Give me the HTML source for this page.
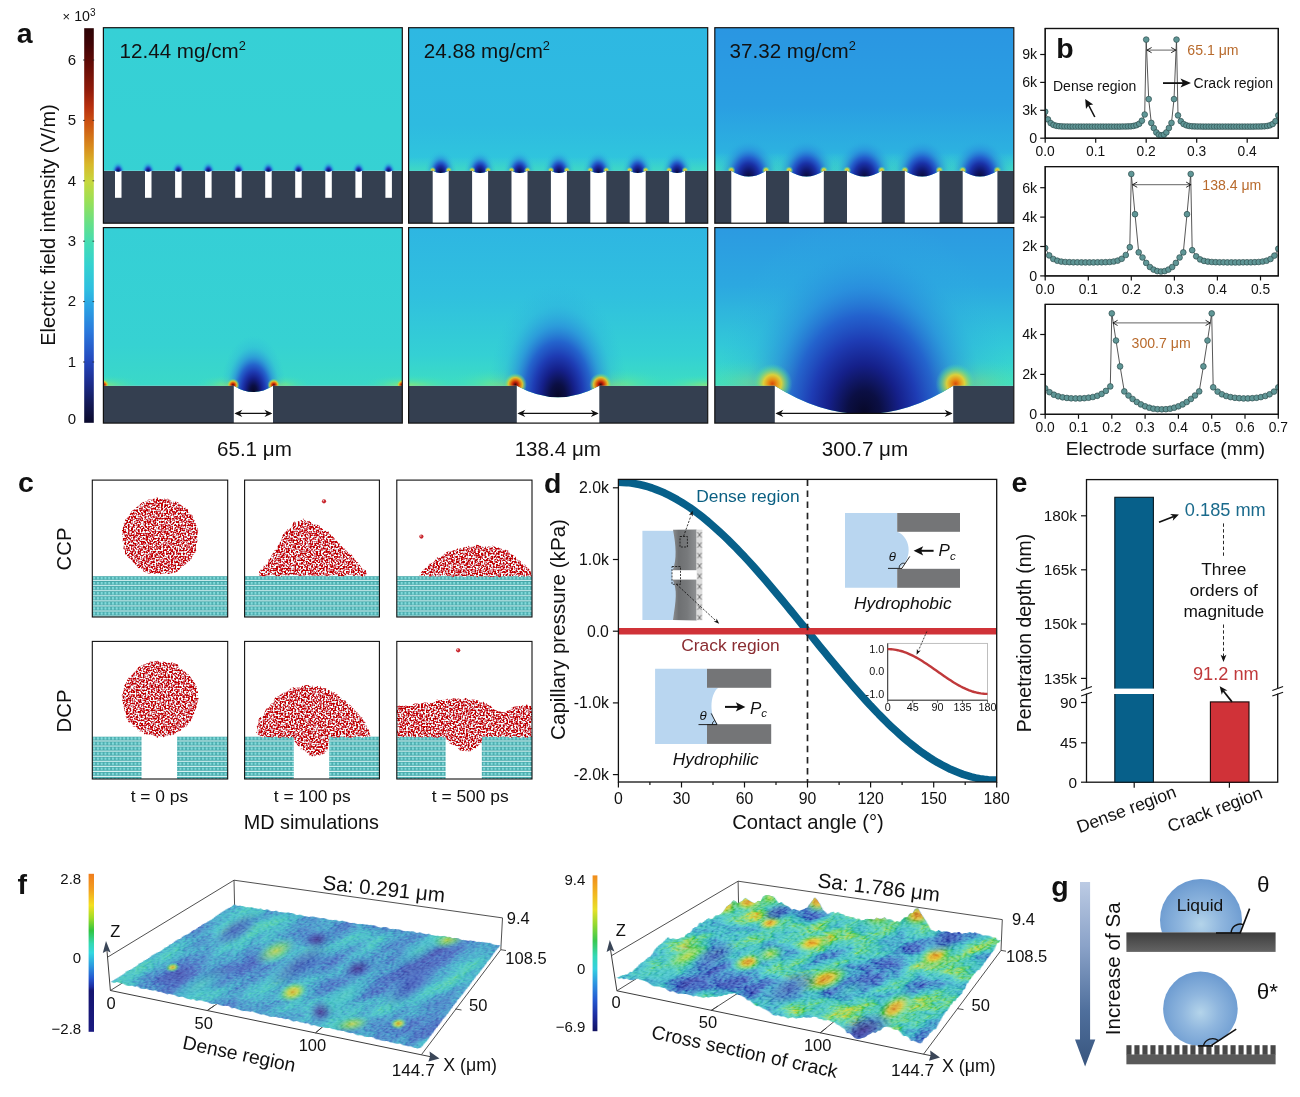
<!DOCTYPE html>
<html><head><meta charset="utf-8"><title>Figure</title>
<style>html,body{margin:0;padding:0;background:#fff}svg{display:block;will-change:transform}text{font-family:"Liberation Sans",sans-serif;fill:#111}</style>
</head><body>
<svg width="1300" height="1097" viewBox="0 0 1300 1097">
<defs>
<linearGradient id="cbA" x1="0" y1="0" x2="0" y2="1">
<stop offset="0" stop-color="#2c0406"/><stop offset="0.04" stop-color="#400406"/><stop offset="0.08" stop-color="#5c0a06"/>
<stop offset="0.155" stop-color="#8f1a0a"/><stop offset="0.2" stop-color="#b8300e"/><stop offset="0.24" stop-color="#cc5212"/>
<stop offset="0.30" stop-color="#d88a1c"/><stop offset="0.345" stop-color="#d8b82a"/><stop offset="0.39" stop-color="#c6d83e"/>
<stop offset="0.44" stop-color="#98e058"/><stop offset="0.50" stop-color="#62e08c"/><stop offset="0.545" stop-color="#44dcb4"/>
<stop offset="0.60" stop-color="#34d2d0"/><stop offset="0.66" stop-color="#2ebfe0"/><stop offset="0.70" stop-color="#2aa6e4"/>
<stop offset="0.77" stop-color="#2a78dc"/><stop offset="0.845" stop-color="#2446bc"/><stop offset="0.90" stop-color="#1c2c8c"/>
<stop offset="0.95" stop-color="#141a58"/><stop offset="1" stop-color="#0a0a2c"/></linearGradient>
<radialGradient id="blob1"><stop offset="0" stop-color="#101a60"/><stop offset="0.18" stop-color="#1a2c9a"/><stop offset="0.4" stop-color="#2456d0" stop-opacity="0.9"/><stop offset="0.7" stop-color="#2a90e0" stop-opacity="0.45"/><stop offset="1" stop-color="#2eb0e0" stop-opacity="0"/></radialGradient>
<radialGradient id="blobS"><stop offset="0" stop-color="#1a2ca0"/><stop offset="0.35" stop-color="#2456d0" stop-opacity="0.85"/><stop offset="1" stop-color="#2a90e0" stop-opacity="0"/></radialGradient>
<radialGradient id="hot"><stop offset="0" stop-color="#3a0808"/><stop offset="0.22" stop-color="#c02008"/><stop offset="0.42" stop-color="#e07010"/><stop offset="0.62" stop-color="#e8c828" stop-opacity="0.9"/><stop offset="0.8" stop-color="#90e060" stop-opacity="0.5"/><stop offset="1" stop-color="#50e0a0" stop-opacity="0"/></radialGradient>
<radialGradient id="hotY"><stop offset="0" stop-color="#e8b020"/><stop offset="0.4" stop-color="#e0e040" stop-opacity="0.9"/><stop offset="0.7" stop-color="#80e070" stop-opacity="0.5"/><stop offset="1" stop-color="#50e0a0" stop-opacity="0"/></radialGradient>
<radialGradient id="hot3"><stop offset="0" stop-color="#d84c0a"/><stop offset="0.2" stop-color="#e88c14"/><stop offset="0.45" stop-color="#e8d430" stop-opacity="0.92"/><stop offset="0.75" stop-color="#70e080" stop-opacity="0.5"/><stop offset="1" stop-color="#40d8c0" stop-opacity="0"/></radialGradient>
<linearGradient id="bgT1" x1="0" y1="0" x2="0" y2="1"><stop offset="0" stop-color="#36d0d6"/><stop offset="1" stop-color="#36d2d2"/></linearGradient>
<linearGradient id="bgT2" x1="0" y1="0" x2="0" y2="1"><stop offset="0" stop-color="#2eb8e2"/><stop offset="0.5" stop-color="#2ebbe0"/><stop offset="0.73" stop-color="#30c8dc"/><stop offset="1" stop-color="#30c8dc"/></linearGradient>
<linearGradient id="bgT3" x1="0" y1="0" x2="0" y2="1"><stop offset="0" stop-color="#2a96e2"/><stop offset="0.4" stop-color="#2a9fe2"/><stop offset="0.62" stop-color="#2cb0e0"/><stop offset="0.73" stop-color="#2fc4dc"/><stop offset="1" stop-color="#2fc4dc"/></linearGradient>
<linearGradient id="bgB1" x1="0" y1="0" x2="0" y2="1"><stop offset="0" stop-color="#35cfd6"/><stop offset="0.6" stop-color="#36d2d2"/><stop offset="0.8" stop-color="#3ad8c8"/><stop offset="1" stop-color="#3ad8c8"/></linearGradient>
<linearGradient id="bgB2" x1="0" y1="0" x2="0" y2="1"><stop offset="0" stop-color="#2eb6e2"/><stop offset="0.35" stop-color="#30c0de"/><stop offset="0.65" stop-color="#34d0d4"/><stop offset="0.79" stop-color="#3cdcc4"/><stop offset="1" stop-color="#3cdcc4"/></linearGradient>
<linearGradient id="bgB3" x1="0" y1="0" x2="0" y2="1"><stop offset="0" stop-color="#2c9ae1"/><stop offset="0.3" stop-color="#2ca8e0"/><stop offset="0.6" stop-color="#32c8d8"/><stop offset="0.79" stop-color="#3adcc8"/><stop offset="1" stop-color="#3adcc8"/></linearGradient>
<clipPath id="cT0"><rect x="103.4" y="27.7" width="298.9" height="143.1"/></clipPath>
<clipPath id="cTT0"><rect x="103.4" y="27.7" width="298.9" height="195.5"/></clipPath>
<clipPath id="cBB0"><rect x="103.4" y="227.6" width="298.9" height="195.5"/></clipPath>
<clipPath id="cT1"><rect x="408.6" y="27.7" width="299.1" height="143.1"/></clipPath>
<clipPath id="cTT1"><rect x="408.6" y="27.7" width="299.1" height="195.5"/></clipPath>
<clipPath id="cBB1"><rect x="408.6" y="227.6" width="299.1" height="195.5"/></clipPath>
<clipPath id="cT2"><rect x="714.8" y="27.7" width="299.0" height="143.1"/></clipPath>
<clipPath id="cTT2"><rect x="714.8" y="27.7" width="299.0" height="195.5"/></clipPath>
<clipPath id="cBB2"><rect x="714.8" y="227.6" width="299.0" height="195.5"/></clipPath>
<radialGradient id="blobT"><stop offset="0" stop-color="#090c3c"/><stop offset="0.16" stop-color="#101870"/><stop offset="0.32" stop-color="#1a32a8"/><stop offset="0.46" stop-color="#2254cc" stop-opacity="0.9"/><stop offset="0.64" stop-color="#2884dc" stop-opacity="0.55"/><stop offset="0.84" stop-color="#2ca8e0" stop-opacity="0.2"/><stop offset="1" stop-color="#2eb0e0" stop-opacity="0"/></radialGradient>
<linearGradient id="bandT" x1="0" y1="0" x2="0" y2="1"><stop offset="0" stop-color="#40dcc4" stop-opacity="0"/><stop offset="1" stop-color="#44dcbc" stop-opacity="0.8"/></linearGradient>
<clipPath id="elt0"><path d="M103.4 27.7 H402.3 V170.8 H391.9 Q388.6 172.8 385.4 170.8 H361.9 Q358.6 172.8 355.4 170.8 H331.8 Q328.6 172.8 325.3 170.8 H301.8 Q298.5 172.8 295.2 170.8 H271.7 Q268.4 172.8 265.2 170.8 H241.7 Q238.4 172.8 235.2 170.8 H211.6 Q208.4 172.8 205.1 170.8 H181.6 Q178.3 172.8 175.1 170.8 H151.5 Q148.2 172.8 145.0 170.8 H121.5 Q118.2 172.8 115.0 170.8 H103.4Z"/></clipPath>
<clipPath id="elt1"><path d="M408.6 27.7 H707.7 V170.8 H685.1 Q677.1 175.2 669.1 170.8 H645.7 Q637.7 175.2 629.7 170.8 H606.3 Q598.3 175.2 590.3 170.8 H566.9 Q558.9 175.2 550.9 170.8 H527.5 Q519.5 175.2 511.5 170.8 H488.1 Q480.1 175.2 472.1 170.8 H448.7 Q440.7 175.2 432.7 170.8 H408.6Z"/></clipPath>
<clipPath id="elt2"><path d="M714.8 27.7 H1013.8 V170.8 H997.4 Q980.0 182.4 962.7 170.8 H939.5 Q922.2 182.4 904.8 170.8 H881.7 Q864.4 182.4 847.0 170.8 H823.9 Q806.5 182.4 789.1 170.8 H766.0 Q748.6 182.4 731.3 170.8 H714.8Z"/></clipPath>
<radialGradient id="glow"><stop offset="0" stop-color="#a0e860" stop-opacity="0.75"/><stop offset="0.5" stop-color="#60e498" stop-opacity="0.4"/><stop offset="1" stop-color="#40dcc0" stop-opacity="0"/></radialGradient>
<clipPath id="elk0"><path d="M103.4 227.6 H402.3 V385.7 H273.0 Q253.4 398.3 233.8 385.7 H103.4Z"/></clipPath>
<radialGradient id="plm0" gradientUnits="userSpaceOnUse" cx="0" cy="0" r="1" fx="0" fy="0" gradientTransform="translate(253.4 391.5) scale(33 56)">
<stop offset="0" stop-color="#070828"/><stop offset="0.11" stop-color="#0b0f44"/><stop offset="0.24" stop-color="#15208a"/><stop offset="0.36" stop-color="#1e3cb4"/><stop offset="0.48" stop-color="#2258cc" stop-opacity="0.9"/><stop offset="0.62" stop-color="#2880dc" stop-opacity="0.62"/><stop offset="0.8" stop-color="#2ca4e0" stop-opacity="0.25"/><stop offset="1" stop-color="#2eb4e0" stop-opacity="0"/></radialGradient>
<clipPath id="elk1"><path d="M408.6 227.6 H707.7 V385.7 H599.3 Q558.0 408.7 516.8 385.7 H408.6Z"/></clipPath>
<radialGradient id="plm1" gradientUnits="userSpaceOnUse" cx="0" cy="0" r="1" fx="0" fy="0" gradientTransform="translate(558.0 396.5) scale(70 114)">
<stop offset="0" stop-color="#070828"/><stop offset="0.11" stop-color="#0b0f44"/><stop offset="0.24" stop-color="#15208a"/><stop offset="0.36" stop-color="#1e3cb4"/><stop offset="0.48" stop-color="#2258cc" stop-opacity="0.9"/><stop offset="0.62" stop-color="#2880dc" stop-opacity="0.62"/><stop offset="0.8" stop-color="#2ca4e0" stop-opacity="0.25"/><stop offset="1" stop-color="#2eb4e0" stop-opacity="0"/></radialGradient>
<clipPath id="elk2"><path d="M714.8 227.6 H1013.8 V385.7 H953.2 Q864.0 442.5 774.8 385.7 H714.8Z"/></clipPath>
<radialGradient id="plm2" gradientUnits="userSpaceOnUse" cx="0" cy="0" r="1" fx="0" fy="0" gradientTransform="translate(864.0 413.5) scale(150 204)">
<stop offset="0" stop-color="#070828"/><stop offset="0.11" stop-color="#0b0f44"/><stop offset="0.24" stop-color="#15208a"/><stop offset="0.36" stop-color="#1e3cb4"/><stop offset="0.48" stop-color="#2258cc" stop-opacity="0.9"/><stop offset="0.62" stop-color="#2880dc" stop-opacity="0.62"/><stop offset="0.8" stop-color="#2ca4e0" stop-opacity="0.25"/><stop offset="1" stop-color="#2eb4e0" stop-opacity="0"/></radialGradient>
<clipPath id="cb28"><rect x="1045.2" y="28.5" width="233.1" height="109.7"/></clipPath>
<clipPath id="cb166"><rect x="1045.2" y="166.6" width="233.1" height="109.3"/></clipPath>
<clipPath id="cb304"><rect x="1045.2" y="304.4" width="233.1" height="109.9"/></clipPath>
<filter id="spk" x="0" y="0" width="1" height="1" color-interpolation-filters="sRGB">
<feTurbulence type="fractalNoise" baseFrequency="0.6" numOctaves="1" seed="7" result="n"/>
<feColorMatrix in="n" type="matrix" values="0 0.7 0 0 0.50  0 5.0 0 0 -2.06  0 4.9 0 0 -1.98  0 0 0 0 1" result="c"/>
<feComposite in="c" in2="SourceGraphic" operator="in"/></filter>
<pattern id="sub" x="92.3" y="576.0" width="3.75" height="5.07" patternUnits="userSpaceOnUse">
<rect width="3.75" height="5.07" fill="#46a8aa"/><rect y="4.05" width="3.75" height="1.02" fill="#dcf5f5"/><rect x="0.75" y="0.85" width="2.3" height="2.3" rx="0.6" fill="#84dcdc"/></pattern>
<pattern id="sub2" x="92.3" y="736.4" width="3.75" height="5.07" patternUnits="userSpaceOnUse">
<rect width="3.75" height="5.07" fill="#46a8aa"/><rect y="4.05" width="3.75" height="1.02" fill="#dcf5f5"/><rect x="0.75" y="0.85" width="2.3" height="2.3" rx="0.6" fill="#84dcdc"/></pattern>
<clipPath id="cc0"><rect x="92.3" y="480.1" width="135.4" height="136.9"/></clipPath>
<clipPath id="cd0"><rect x="92.3" y="641.4" width="135.4" height="137.6"/></clipPath>
<clipPath id="cc1"><rect x="244.6" y="480.1" width="134.8" height="136.9"/></clipPath>
<clipPath id="cd1"><rect x="244.6" y="641.4" width="134.8" height="137.6"/></clipPath>
<clipPath id="cc2"><rect x="396.8" y="480.1" width="135.2" height="136.9"/></clipPath>
<clipPath id="cd2"><rect x="396.8" y="641.4" width="135.2" height="137.6"/></clipPath>
<clipPath id="cdp"><rect x="618.4" y="479.4" width="378.3" height="302.6"/></clipPath>
<linearGradient id="elg" x1="0" y1="0" x2="1" y2="0"><stop offset="0" stop-color="#8a8c8e"/><stop offset="0.25" stop-color="#6e7072"/><stop offset="0.6" stop-color="#77797b"/><stop offset="1" stop-color="#8e9092"/></linearGradient>
<pattern id="xx" x="696.6" y="529.2" width="5.8" height="10.35" patternUnits="userSpaceOnUse"><rect width="5.8" height="10.35" fill="#dedede"/><path d="M0.9 3.0 L4.9 8.2 M4.9 3.0 L0.9 8.2" stroke="#5a5a5a" stroke-width="0.85"/></pattern>
<linearGradient id="cbF1" x1="0" y1="0" x2="0" y2="1"><stop offset="0" stop-color="#f07c1c"/><stop offset="0.1" stop-color="#f2a020"/><stop offset="0.2" stop-color="#f4e020"/><stop offset="0.28" stop-color="#a0dc28"/><stop offset="0.36" stop-color="#30c440"/><stop offset="0.44" stop-color="#34d8b0"/><stop offset="0.5" stop-color="#34d8e0"/><stop offset="0.58" stop-color="#2c9ce0"/><stop offset="0.66" stop-color="#2458d0"/><stop offset="0.715" stop-color="#1c2ca0"/><stop offset="0.74" stop-color="#141470"/><stop offset="1" stop-color="#1a1a80"/></linearGradient>
<linearGradient id="cbF2" x1="0" y1="0" x2="0" y2="1"><stop offset="0" stop-color="#f08c1c"/><stop offset="0.12" stop-color="#f2b820"/><stop offset="0.22" stop-color="#e8e028"/><stop offset="0.32" stop-color="#90d830"/><stop offset="0.42" stop-color="#38c850"/><stop offset="0.52" stop-color="#34d8b8"/><stop offset="0.6" stop-color="#34d0e0"/><stop offset="0.7" stop-color="#2c90e0"/><stop offset="0.8" stop-color="#2458d0"/><stop offset="0.9" stop-color="#1c2ca0"/><stop offset="1" stop-color="#101060"/></linearGradient>
<filter id="srf1" x="0" y="0" width="1" height="1" color-interpolation-filters="sRGB"><feTurbulence type="fractalNoise" baseFrequency="0.03 0.013" numOctaves="3" seed="11" result="t1"/>
<feColorMatrix in="t1" type="matrix" values="1 0 0 0 0  1 0 0 0 0  1 0 0 0 0  0 0 0 0 1" result="l"/>
<feTurbulence type="fractalNoise" baseFrequency="0.45 0.32" numOctaves="2" seed="14" result="t2"/>
<feColorMatrix in="t2" type="matrix" values="1 0 0 0 0  1 0 0 0 0  1 0 0 0 0  0 0 0 0 1" result="hh"/>
<feComposite in="l" in2="hh" operator="arithmetic" k1="0" k2="0.72" k3="0.28" k4="0" result="m"/>
<feColorMatrix in="m" type="matrix" values="0.8 0 0 0 0.09  0.8 0 0 0 0.09  0.8 0 0 0 0.09  0.8 0 0 0 0.09" result="h"/>
<feComponentTransfer in="h" result="col"><feFuncR type="table" tableValues="0.235 0.246 0.257 0.268 0.279 0.290 0.296 0.303 0.309 0.313 0.309 0.306 0.303 0.299 0.312 0.332 0.370 0.438 0.511 0.654 0.797 0.853 0.881 0.910"/><feFuncG type="table" tableValues="0.173 0.197 0.222 0.247 0.272 0.297 0.334 0.372 0.411 0.457 0.525 0.593 0.665 0.736 0.777 0.800 0.821 0.834 0.847 0.847 0.847 0.761 0.647 0.533"/><feFuncB type="table" tableValues="0.533 0.558 0.583 0.608 0.633 0.657 0.687 0.717 0.747 0.772 0.786 0.799 0.800 0.800 0.773 0.732 0.664 0.548 0.435 0.360 0.285 0.228 0.177 0.125"/><feFuncA type="linear" slope="0" intercept="1"/></feComponentTransfer>
<feComposite in="col" in2="SourceGraphic" operator="in"/></filter><filter id="srf1L" x="0" y="0" width="1" height="1" color-interpolation-filters="sRGB"><feTurbulence type="fractalNoise" baseFrequency="0.03 0.013" numOctaves="3" seed="11" result="t1"/>
<feColorMatrix in="t1" type="matrix" values="1 0 0 0 0  1 0 0 0 0  1 0 0 0 0  0 0 0 0 1" result="l"/>
<feTurbulence type="fractalNoise" baseFrequency="0.45 0.32" numOctaves="2" seed="14" result="t2"/>
<feColorMatrix in="t2" type="matrix" values="1 0 0 0 0  1 0 0 0 0  1 0 0 0 0  0 0 0 0 1" result="hh"/>
<feComposite in="l" in2="hh" operator="arithmetic" k1="0" k2="0.72" k3="0.28" k4="0" result="m"/>
<feColorMatrix in="m" type="matrix" values="0.8 0 0 0 0.09  0.8 0 0 0 0.09  0.8 0 0 0 0.09  0.8 0 0 0 0.09" result="h"/>
<feDiffuseLighting in="h" surfaceScale="5" diffuseConstant="0.6" lighting-color="#fff" result="lit"><feDistantLight azimuth="235" elevation="62"/></feDiffuseLighting>
<feComposite in="lit" in2="SourceGraphic" operator="in"/></filter>
<filter id="srf2" x="0" y="0" width="1" height="1" color-interpolation-filters="sRGB"><feTurbulence type="fractalNoise" baseFrequency="0.024 0.02" numOctaves="4" seed="23" result="t1"/>
<feColorMatrix in="t1" type="matrix" values="1 0 0 0 0  1 0 0 0 0  1 0 0 0 0  0 0 0 0 1" result="l"/>
<feTurbulence type="fractalNoise" baseFrequency="0.42 0.3" numOctaves="2" seed="26" result="t2"/>
<feColorMatrix in="t2" type="matrix" values="1 0 0 0 0  1 0 0 0 0  1 0 0 0 0  0 0 0 0 1" result="hh"/>
<feComposite in="l" in2="hh" operator="arithmetic" k1="0" k2="0.8" k3="0.2" k4="0" result="m"/>
<feColorMatrix in="m" type="matrix" values="1.25 0 0 0 -0.09  1.25 0 0 0 -0.09  1.25 0 0 0 -0.09  1.25 0 0 0 -0.09" result="h"/>
<feComponentTransfer in="h" result="col"><feFuncR type="table" tableValues="0.227 0.241 0.255 0.268 0.278 0.285 0.292 0.298 0.298 0.298 0.298 0.298 0.298 0.312 0.329 0.370 0.435 0.513 0.643 0.773 0.839 0.900 0.910 0.910"/><feFuncG type="table" tableValues="0.173 0.204 0.236 0.268 0.305 0.346 0.387 0.429 0.489 0.549 0.611 0.680 0.748 0.780 0.804 0.823 0.836 0.847 0.847 0.847 0.764 0.673 0.580 0.486"/><feFuncB type="table" tableValues="0.533 0.570 0.606 0.642 0.676 0.708 0.740 0.770 0.781 0.792 0.801 0.804 0.807 0.777 0.740 0.666 0.557 0.453 0.372 0.290 0.241 0.196 0.152 0.110"/><feFuncA type="linear" slope="0" intercept="1"/></feComponentTransfer>
<feComposite in="col" in2="SourceGraphic" operator="in"/></filter><filter id="srf2L" x="0" y="0" width="1" height="1" color-interpolation-filters="sRGB"><feTurbulence type="fractalNoise" baseFrequency="0.024 0.02" numOctaves="4" seed="23" result="t1"/>
<feColorMatrix in="t1" type="matrix" values="1 0 0 0 0  1 0 0 0 0  1 0 0 0 0  0 0 0 0 1" result="l"/>
<feTurbulence type="fractalNoise" baseFrequency="0.42 0.3" numOctaves="2" seed="26" result="t2"/>
<feColorMatrix in="t2" type="matrix" values="1 0 0 0 0  1 0 0 0 0  1 0 0 0 0  0 0 0 0 1" result="hh"/>
<feComposite in="l" in2="hh" operator="arithmetic" k1="0" k2="0.8" k3="0.2" k4="0" result="m"/>
<feColorMatrix in="m" type="matrix" values="1.25 0 0 0 -0.09  1.25 0 0 0 -0.09  1.25 0 0 0 -0.09  1.25 0 0 0 -0.09" result="h"/>
<feDiffuseLighting in="h" surfaceScale="7" diffuseConstant="0.62" lighting-color="#fff" result="lit"><feDistantLight azimuth="235" elevation="58"/></feDiffuseLighting>
<feComposite in="lit" in2="SourceGraphic" operator="in"/></filter>
<radialGradient id="pkO"><stop offset="0" stop-color="#ea8c20"/><stop offset="0.3" stop-color="#e6c838"/><stop offset="0.55" stop-color="#8cd868" stop-opacity="0.85"/><stop offset="0.8" stop-color="#58d0b0" stop-opacity="0.4"/><stop offset="1" stop-color="#4cc4cc" stop-opacity="0"/></radialGradient>
<radialGradient id="pkY"><stop offset="0" stop-color="#e4b430"/><stop offset="0.3" stop-color="#cfd848"/><stop offset="0.55" stop-color="#84d870" stop-opacity="0.85"/><stop offset="0.8" stop-color="#58d0b0" stop-opacity="0.4"/><stop offset="1" stop-color="#4cc4cc" stop-opacity="0"/></radialGradient>
<radialGradient id="pkG"><stop offset="0" stop-color="#c4d84c"/><stop offset="0.4" stop-color="#7cd878" stop-opacity="0.85"/><stop offset="0.75" stop-color="#58d0b4" stop-opacity="0.4"/><stop offset="1" stop-color="#4cc4cc" stop-opacity="0"/></radialGradient>
<radialGradient id="pkP"><stop offset="0" stop-color="#46308c"/><stop offset="0.4" stop-color="#4a50ac" stop-opacity="0.85"/><stop offset="0.75" stop-color="#5070c4" stop-opacity="0.4"/><stop offset="1" stop-color="#5070c4" stop-opacity="0"/></radialGradient>
<radialGradient id="pkB"><stop offset="0" stop-color="#4a5cb8"/><stop offset="0.5" stop-color="#5070c4" stop-opacity="0.7"/><stop offset="1" stop-color="#4e88c8" stop-opacity="0"/></radialGradient>
<radialGradient id="pkC"><stop offset="0" stop-color="#58d0c0" stop-opacity="0.9"/><stop offset="0.5" stop-color="#4cc4cc" stop-opacity="0.6"/><stop offset="1" stop-color="#4cc4cc" stop-opacity="0"/></radialGradient>
<clipPath id="sc1"><path d="M111.0 981.6 L113.6 980.2 L116.1 978.7 L118.7 977.2 L121.2 975.4 L123.8 974.0 L126.4 971.4 L128.9 970.3 L131.5 969.3 L134.1 967.3 L136.6 966.0 L139.2 963.5 L141.8 962.3 L144.3 960.5 L146.9 959.2 L149.4 957.7 L152.0 955.4 L154.6 954.1 L157.1 952.5 L159.7 951.7 L162.2 949.9 L164.8 947.6 L167.4 946.8 L169.9 944.4 L172.5 943.4 L175.1 941.2 L177.6 939.5 L180.2 938.9 L182.8 936.5 L185.3 934.9 L187.9 934.3 L190.4 932.5 L193.0 930.2 L195.6 929.5 L198.1 927.4 L200.7 925.9 L203.2 923.8 L205.8 923.1 L208.4 921.2 L210.9 919.9 L213.5 918.2 L216.1 915.9 L218.6 914.4 L221.2 912.6 L223.8 910.9 L226.3 909.3 L228.9 907.9 L231.4 906.7 L234.0 904.3 L237.0 905.7 L240.0 905.7 L243.0 906.1 L246.0 907.2 L249.0 907.2 L252.0 907.4 L255.0 908.1 L258.0 908.9 L260.9 908.4 L263.9 910.2 L266.9 909.3 L269.9 910.7 L272.9 911.3 L275.9 910.6 L278.9 912.1 L281.9 912.0 L284.9 912.8 L287.9 912.4 L290.9 912.9 L293.9 913.5 L296.9 915.1 L299.9 914.5 L302.9 915.7 L305.9 916.4 L308.9 916.9 L311.9 916.5 L314.8 916.9 L317.8 917.6 L320.8 918.4 L323.8 917.9 L326.8 919.3 L329.8 919.8 L332.8 920.3 L335.8 919.6 L338.8 921.4 L341.8 920.6 L344.8 921.4 L347.8 922.2 L350.8 923.1 L353.8 922.8 L356.8 924.0 L359.8 923.9 L362.8 924.1 L365.8 924.5 L368.7 924.8 L371.7 925.1 L374.7 925.6 L377.7 926.8 L380.7 927.7 L383.7 927.0 L386.7 927.3 L389.7 929.1 L392.7 928.9 L395.7 929.1 L398.7 929.4 L401.7 930.3 L404.7 931.1 L407.7 931.0 L410.7 931.4 L413.7 931.3 L416.7 933.0 L419.7 932.2 L422.6 933.3 L425.6 934.2 L428.6 933.7 L431.6 935.0 L434.6 935.7 L437.6 935.7 L440.6 936.4 L443.6 935.9 L446.6 936.8 L449.6 936.9 L452.6 938.3 L455.6 938.0 L458.6 938.6 L461.6 939.9 L464.6 940.1 L467.6 940.7 L470.6 940.4 L473.6 940.9 L476.5 941.7 L479.5 941.8 L482.5 942.0 L485.5 942.6 L488.5 942.7 L491.5 943.5 L494.5 944.8 L497.5 945.2 L500.5 945.2 L498.6 947.4 L496.8 949.6 L494.9 951.7 L493.1 954.4 L491.2 957.4 L489.3 959.9 L487.5 961.7 L485.6 964.6 L483.8 967.0 L481.9 969.3 L480.0 971.7 L478.2 974.2 L476.3 976.1 L474.5 978.9 L472.6 980.8 L470.7 983.5 L468.9 986.2 L467.0 988.6 L465.2 990.5 L463.3 993.7 L461.4 995.7 L459.6 998.1 L457.7 999.8 L455.8 1002.8 L454.0 1004.9 L452.1 1007.8 L450.3 1009.9 L448.4 1012.8 L446.5 1015.0 L444.7 1017.6 L442.8 1019.4 L441.0 1022.2 L439.1 1024.7 L437.2 1027.2 L435.4 1029.1 L433.5 1032.1 L431.7 1034.5 L429.8 1036.7 L427.9 1039.4 L426.1 1041.8 L424.2 1043.7 L422.4 1046.1 L420.5 1047.9 L417.6 1048.5 L414.6 1048.0 L411.7 1046.5 L408.7 1046.3 L405.8 1045.7 L402.8 1045.1 L399.9 1043.4 L396.9 1043.9 L394.0 1042.9 L391.0 1042.4 L388.1 1041.3 L385.1 1041.1 L382.2 1040.7 L379.2 1039.8 L376.3 1039.3 L373.3 1037.4 L370.4 1037.0 L367.4 1036.9 L364.5 1036.6 L361.5 1035.2 L358.6 1035.4 L355.7 1034.7 L352.7 1033.0 L349.8 1033.1 L346.8 1032.1 L343.9 1031.1 L340.9 1030.6 L338.0 1030.3 L335.0 1029.4 L332.1 1028.8 L329.1 1027.9 L326.2 1028.0 L323.2 1027.2 L320.3 1027.0 L317.3 1026.3 L314.4 1025.1 L311.4 1025.6 L308.5 1023.4 L305.5 1023.4 L302.6 1022.6 L299.6 1022.2 L296.7 1021.0 L293.8 1021.7 L290.8 1020.2 L287.9 1019.0 L284.9 1019.4 L282.0 1017.8 L279.0 1018.0 L276.1 1016.9 L273.1 1016.7 L270.2 1016.8 L267.2 1015.9 L264.3 1014.5 L261.3 1014.6 L258.4 1013.7 L255.4 1012.5 L252.5 1011.5 L249.5 1011.7 L246.6 1011.0 L243.6 1011.0 L240.7 1010.4 L237.7 1009.1 L234.8 1008.0 L231.9 1008.4 L228.9 1006.1 L226.0 1005.7 L223.0 1005.9 L220.1 1005.3 L217.1 1003.8 L214.2 1004.1 L211.2 1003.9 L208.3 1002.3 L205.3 1001.8 L202.4 1000.8 L199.4 1000.3 L196.5 1000.9 L193.5 999.2 L190.6 999.6 L187.6 998.8 L184.7 997.6 L181.7 996.4 L178.8 997.0 L175.8 995.5 L172.9 994.7 L170.0 993.9 L167.0 994.5 L164.1 993.0 L161.1 992.0 L158.2 991.7 L155.2 990.4 L152.3 990.7 L149.3 989.7 L146.4 988.8 L143.4 989.0 L140.5 988.5 L137.5 986.4 L134.6 986.7 L131.6 985.6 L128.7 986.1 L125.7 985.2 L122.8 983.6 L119.8 983.0 L116.9 982.2 L113.9 983.0Z"/></clipPath>
<clipPath id="sc2"><path d="M616.5 977.4 L618.7 977.1 L621.0 975.6 L623.2 975.3 L625.5 974.5 L627.7 974.3 L630.0 971.6 L632.2 972.2 L634.5 969.0 L636.7 967.6 L639.0 964.9 L641.2 962.8 L643.4 961.7 L645.7 959.7 L647.9 957.6 L650.2 956.6 L652.4 953.8 L654.7 949.4 L656.9 947.2 L659.2 944.9 L661.4 943.7 L663.7 941.6 L665.9 939.2 L668.1 937.0 L670.4 939.2 L672.6 938.3 L674.9 938.9 L677.1 939.2 L679.4 938.5 L681.6 937.3 L683.9 937.5 L686.1 934.5 L688.4 933.0 L690.6 932.5 L692.8 928.7 L695.1 927.0 L697.3 926.6 L699.6 922.5 L701.8 923.2 L704.1 921.4 L706.3 919.5 L708.6 918.2 L710.8 918.9 L713.1 918.5 L715.3 915.4 L717.5 915.5 L719.8 914.6 L722.0 912.9 L724.3 910.2 L726.5 906.8 L728.8 905.0 L731.0 903.4 L733.3 900.3 L735.5 901.1 L737.8 903.3 L740.0 902.0 L742.6 900.7 L745.2 897.9 L747.7 899.8 L750.3 901.3 L752.9 902.8 L755.5 902.9 L758.1 900.8 L760.6 901.4 L763.2 896.6 L765.8 895.1 L768.4 895.1 L771.0 895.9 L773.5 896.9 L776.1 899.9 L778.7 903.3 L781.3 902.1 L783.8 904.7 L786.4 905.8 L789.0 906.9 L791.6 909.7 L794.2 908.9 L796.7 909.7 L799.3 910.9 L801.9 909.8 L804.5 908.8 L807.1 907.8 L809.6 904.4 L812.2 901.1 L814.8 897.4 L817.4 900.3 L820.0 904.3 L822.5 909.4 L825.1 911.8 L827.7 914.2 L830.3 912.7 L832.9 911.6 L835.4 913.4 L838.0 911.9 L840.6 913.7 L843.2 914.1 L845.7 916.2 L848.3 916.2 L850.9 917.4 L853.5 917.2 L856.1 918.9 L858.6 918.6 L861.2 920.5 L863.8 920.0 L866.4 918.9 L869.0 919.0 L871.5 919.1 L874.1 919.7 L876.7 917.6 L879.3 918.9 L881.9 918.7 L884.4 917.3 L887.0 919.8 L889.6 919.0 L892.2 920.1 L894.8 922.2 L897.3 921.1 L899.9 922.1 L902.5 919.2 L905.1 917.0 L907.6 917.0 L910.2 913.2 L912.8 913.1 L915.4 908.8 L918.0 908.3 L920.5 912.9 L923.1 916.9 L925.7 920.9 L928.3 924.9 L930.9 930.1 L933.4 930.5 L936.0 931.7 L938.6 930.1 L941.2 931.9 L943.8 931.5 L946.3 931.5 L948.9 932.1 L951.5 933.2 L954.1 932.6 L956.7 932.8 L959.2 932.0 L961.8 933.9 L964.4 933.1 L967.0 933.3 L969.5 931.9 L972.1 933.2 L974.7 932.4 L977.3 933.2 L979.9 933.9 L982.4 935.4 L985.0 935.4 L987.6 935.5 L990.2 936.2 L992.8 937.5 L995.3 937.6 L997.9 940.6 L1000.5 940.0 L998.9 943.0 L997.3 942.9 L995.7 946.7 L994.1 950.3 L992.4 952.0 L990.8 954.0 L989.2 956.8 L987.6 958.2 L986.0 960.8 L984.4 963.0 L982.8 965.6 L981.2 967.3 L979.5 970.4 L977.9 969.8 L976.3 971.8 L974.7 973.7 L973.1 975.3 L971.5 977.7 L969.9 979.8 L968.3 982.9 L966.6 984.0 L965.0 989.1 L963.4 989.8 L961.8 993.7 L960.2 995.1 L958.6 997.0 L957.0 998.2 L955.4 1001.4 L953.7 1000.7 L952.1 1004.3 L950.5 1005.1 L948.9 1008.4 L947.3 1011.0 L945.7 1011.8 L944.1 1014.6 L942.5 1016.9 L940.8 1020.2 L939.2 1022.4 L937.6 1025.7 L936.0 1029.4 L934.4 1029.3 L932.8 1030.6 L931.2 1032.5 L929.6 1033.4 L927.9 1036.3 L926.3 1037.9 L924.7 1038.1 L923.1 1040.3 L921.5 1043.3 L918.9 1043.4 L916.4 1042.0 L913.8 1040.6 L911.2 1040.9 L908.7 1037.4 L906.1 1036.0 L903.6 1036.0 L901.0 1033.1 L898.4 1030.3 L895.9 1029.7 L893.3 1029.4 L890.7 1027.5 L888.2 1026.9 L885.6 1026.7 L883.1 1027.5 L880.5 1030.5 L877.9 1030.7 L875.4 1032.9 L872.8 1032.1 L870.2 1033.9 L867.7 1034.9 L865.1 1037.2 L862.6 1037.7 L860.0 1038.8 L857.4 1039.1 L854.9 1037.9 L852.3 1035.5 L849.7 1033.2 L847.2 1033.1 L844.6 1028.9 L842.0 1027.7 L839.5 1025.8 L836.9 1024.7 L834.4 1022.3 L831.8 1021.8 L829.2 1020.2 L826.7 1020.3 L824.1 1020.4 L821.5 1018.9 L819.0 1019.1 L816.4 1017.2 L813.9 1016.5 L811.3 1017.7 L808.7 1017.5 L806.2 1017.7 L803.6 1017.2 L801.0 1017.8 L798.5 1018.1 L795.9 1018.6 L793.3 1017.2 L790.8 1017.7 L788.2 1018.6 L785.7 1017.0 L783.1 1016.5 L780.5 1016.5 L778.0 1015.2 L775.4 1015.9 L772.8 1014.9 L770.3 1012.5 L767.7 1010.8 L765.2 1009.4 L762.6 1008.4 L760.0 1006.7 L757.5 1006.1 L754.9 1005.0 L752.3 1002.6 L749.8 1000.5 L747.2 1000.4 L744.7 997.2 L742.1 996.2 L739.5 995.1 L737.0 994.4 L734.4 993.2 L731.8 993.7 L729.3 993.6 L726.7 994.9 L724.1 994.9 L721.6 996.3 L719.0 996.2 L716.5 996.9 L713.9 996.8 L711.3 996.6 L708.8 997.6 L706.2 997.1 L703.6 997.7 L701.1 997.0 L698.5 996.8 L696.0 995.5 L693.4 996.6 L690.8 995.4 L688.3 994.5 L685.7 994.0 L683.1 993.9 L680.6 993.6 L678.0 994.0 L675.4 992.4 L672.9 991.1 L670.3 991.9 L667.8 990.6 L665.2 988.4 L662.6 987.6 L660.1 986.9 L657.5 986.4 L654.9 986.6 L652.4 985.7 L649.8 983.8 L647.3 981.7 L644.7 981.2 L642.1 980.2 L639.6 979.6 L637.0 978.5 L634.4 979.8 L631.9 980.3 L629.3 980.1 L626.8 978.4 L624.2 979.3 L621.6 978.1 L619.1 978.9Z"/></clipPath>
<linearGradient id="gar" x1="0" y1="0" x2="0" y2="1"><stop offset="0" stop-color="#bccbe4"/><stop offset="0.35" stop-color="#8aa2c8"/><stop offset="0.7" stop-color="#4f6f9c"/><stop offset="1" stop-color="#38557e"/></linearGradient>
<radialGradient id="gdr" cx="0.5" cy="0.55" r="0.55"><stop offset="0" stop-color="#b4d4ea"/><stop offset="0.45" stop-color="#8fb6de"/><stop offset="1" stop-color="#6b9ad0"/></radialGradient>
<linearGradient id="gsb" x1="0" y1="0" x2="0" y2="1"><stop offset="0" stop-color="#3e3e3e"/><stop offset="1" stop-color="#646464"/></linearGradient>
<clipPath id="gcl"><rect x="1120" y="870" width="170" height="62.6"/></clipPath>
</defs>
<rect width="1300" height="1097" fill="#fff"/>
<!-- panel a -->
<rect x="84.2" y="28.2" width="9.6" height="394.6" fill="url(#cbA)"/>
<line x1="83" y1="60.0" x2="85" y2="60.0" stroke="#222" stroke-width="0.8"/>
<line x1="92.5" y1="60.0" x2="94.2" y2="60.0" stroke="#222" stroke-width="0.8"/>
<text x="76" y="64.7" font-size="15" text-anchor="end">6</text>
<line x1="83" y1="120.4" x2="85" y2="120.4" stroke="#222" stroke-width="0.8"/>
<line x1="92.5" y1="120.4" x2="94.2" y2="120.4" stroke="#222" stroke-width="0.8"/>
<text x="76" y="125.1" font-size="15" text-anchor="end">5</text>
<line x1="83" y1="180.8" x2="85" y2="180.8" stroke="#222" stroke-width="0.8"/>
<line x1="92.5" y1="180.8" x2="94.2" y2="180.8" stroke="#222" stroke-width="0.8"/>
<text x="76" y="185.5" font-size="15" text-anchor="end">4</text>
<line x1="83" y1="241.2" x2="85" y2="241.2" stroke="#222" stroke-width="0.8"/>
<line x1="92.5" y1="241.2" x2="94.2" y2="241.2" stroke="#222" stroke-width="0.8"/>
<text x="76" y="245.9" font-size="15" text-anchor="end">3</text>
<line x1="83" y1="301.6" x2="85" y2="301.6" stroke="#222" stroke-width="0.8"/>
<line x1="92.5" y1="301.6" x2="94.2" y2="301.6" stroke="#222" stroke-width="0.8"/>
<text x="76" y="306.3" font-size="15" text-anchor="end">2</text>
<line x1="83" y1="362.0" x2="85" y2="362.0" stroke="#222" stroke-width="0.8"/>
<line x1="92.5" y1="362.0" x2="94.2" y2="362.0" stroke="#222" stroke-width="0.8"/>
<text x="76" y="366.7" font-size="15" text-anchor="end">1</text>
<text x="76" y="423.6" font-size="15" text-anchor="end">0</text>
<text x="62.6" y="21.4" font-size="13">×</text><text x="74.2" y="21.2" font-size="14.2">10<tspan font-size="10" dy="-5.4">3</tspan></text>
<text transform="translate(55.4,225) rotate(-90)" font-size="20.05" text-anchor="middle">Electric field intensity (V/m)</text>
<text x="16.8" y="43.4" font-size="28.5" font-weight="bold">a</text>
<g clip-path="url(#cTT0)">
<rect x="103.4" y="170.8" width="298.9" height="52.4" fill="#343f50"/>
<rect x="115.0" y="170.8" width="6.5" height="27.0" fill="#fff"/>
<rect x="145.0" y="170.8" width="6.5" height="27.0" fill="#fff"/>
<rect x="175.1" y="170.8" width="6.5" height="27.0" fill="#fff"/>
<rect x="205.1" y="170.8" width="6.5" height="27.0" fill="#fff"/>
<rect x="235.2" y="170.8" width="6.5" height="27.0" fill="#fff"/>
<rect x="265.2" y="170.8" width="6.5" height="27.0" fill="#fff"/>
<rect x="295.2" y="170.8" width="6.5" height="27.0" fill="#fff"/>
<rect x="325.3" y="170.8" width="6.5" height="27.0" fill="#fff"/>
<rect x="355.4" y="170.8" width="6.5" height="27.0" fill="#fff"/>
<rect x="385.4" y="170.8" width="6.5" height="27.0" fill="#fff"/>
<g clip-path="url(#elt0)">
<rect x="103.4" y="27.7" width="298.9" height="195.5" fill="url(#bgT1)"/>
<ellipse cx="118.2" cy="171.8" rx="7" ry="10.5" fill="url(#blobT)"/>
<ellipse cx="148.2" cy="171.8" rx="7" ry="10.5" fill="url(#blobT)"/>
<ellipse cx="178.3" cy="171.8" rx="7" ry="10.5" fill="url(#blobT)"/>
<ellipse cx="208.4" cy="171.8" rx="7" ry="10.5" fill="url(#blobT)"/>
<ellipse cx="238.4" cy="171.8" rx="7" ry="10.5" fill="url(#blobT)"/>
<ellipse cx="268.4" cy="171.8" rx="7" ry="10.5" fill="url(#blobT)"/>
<ellipse cx="298.5" cy="171.8" rx="7" ry="10.5" fill="url(#blobT)"/>
<ellipse cx="328.6" cy="171.8" rx="7" ry="10.5" fill="url(#blobT)"/>
<ellipse cx="358.6" cy="171.8" rx="7" ry="10.5" fill="url(#blobT)"/>
<ellipse cx="388.6" cy="171.8" rx="7" ry="10.5" fill="url(#blobT)"/>
</g></g>
<g clip-path="url(#cTT1)">
<rect x="408.6" y="170.8" width="299.1" height="52.4" fill="#343f50"/>
<rect x="432.7" y="170.8" width="16" height="52.4" fill="#fff"/>
<rect x="472.1" y="170.8" width="16" height="52.4" fill="#fff"/>
<rect x="511.5" y="170.8" width="16" height="52.4" fill="#fff"/>
<rect x="550.9" y="170.8" width="16" height="52.4" fill="#fff"/>
<rect x="590.3" y="170.8" width="16" height="52.4" fill="#fff"/>
<rect x="629.7" y="170.8" width="16" height="52.4" fill="#fff"/>
<rect x="669.1" y="170.8" width="16" height="52.4" fill="#fff"/>
<g clip-path="url(#elt1)">
<rect x="408.6" y="27.7" width="299.1" height="195.5" fill="url(#bgT2)"/>
<rect x="408.6" y="156.8" width="299.1" height="14" fill="url(#bandT)"/>
<ellipse cx="440.7" cy="173.0" rx="16" ry="23" fill="url(#blobT)"/>
<ellipse cx="480.1" cy="173.0" rx="16" ry="23" fill="url(#blobT)"/>
<ellipse cx="519.5" cy="173.0" rx="16" ry="23" fill="url(#blobT)"/>
<ellipse cx="558.9" cy="173.0" rx="16" ry="23" fill="url(#blobT)"/>
<ellipse cx="598.3" cy="173.0" rx="16" ry="23" fill="url(#blobT)"/>
<ellipse cx="637.7" cy="173.0" rx="16" ry="23" fill="url(#blobT)"/>
<ellipse cx="677.1" cy="173.0" rx="16" ry="23" fill="url(#blobT)"/>
<circle cx="432.7" cy="170.4" r="3.6" fill="url(#hotY)"/>
<circle cx="448.7" cy="170.4" r="3.6" fill="url(#hotY)"/>
<circle cx="472.1" cy="170.4" r="3.6" fill="url(#hotY)"/>
<circle cx="488.1" cy="170.4" r="3.6" fill="url(#hotY)"/>
<circle cx="511.5" cy="170.4" r="3.6" fill="url(#hotY)"/>
<circle cx="527.5" cy="170.4" r="3.6" fill="url(#hotY)"/>
<circle cx="550.9" cy="170.4" r="3.6" fill="url(#hotY)"/>
<circle cx="566.9" cy="170.4" r="3.6" fill="url(#hotY)"/>
<circle cx="590.3" cy="170.4" r="3.6" fill="url(#hotY)"/>
<circle cx="606.3" cy="170.4" r="3.6" fill="url(#hotY)"/>
<circle cx="629.7" cy="170.4" r="3.6" fill="url(#hotY)"/>
<circle cx="645.7" cy="170.4" r="3.6" fill="url(#hotY)"/>
<circle cx="669.1" cy="170.4" r="3.6" fill="url(#hotY)"/>
<circle cx="685.1" cy="170.4" r="3.6" fill="url(#hotY)"/>
</g></g>
<g clip-path="url(#cTT2)">
<rect x="714.8" y="170.8" width="299.0" height="52.4" fill="#343f50"/>
<rect x="731.3" y="170.8" width="34.7" height="52.4" fill="#fff"/>
<rect x="789.1" y="170.8" width="34.7" height="52.4" fill="#fff"/>
<rect x="847.0" y="170.8" width="34.7" height="52.4" fill="#fff"/>
<rect x="904.8" y="170.8" width="34.7" height="52.4" fill="#fff"/>
<rect x="962.7" y="170.8" width="34.7" height="52.4" fill="#fff"/>
<g clip-path="url(#elt2)">
<rect x="714.8" y="27.7" width="299.0" height="195.5" fill="url(#bgT3)"/>
<rect x="714.8" y="152.8" width="299.0" height="18" fill="url(#bandT)"/>
<ellipse cx="748.6" cy="176.6" rx="33" ry="42" fill="url(#blobT)"/>
<ellipse cx="806.5" cy="176.6" rx="33" ry="42" fill="url(#blobT)"/>
<ellipse cx="864.4" cy="176.6" rx="33" ry="42" fill="url(#blobT)"/>
<ellipse cx="922.2" cy="176.6" rx="33" ry="42" fill="url(#blobT)"/>
<ellipse cx="980.0" cy="176.6" rx="33" ry="42" fill="url(#blobT)"/>
<circle cx="731.3" cy="170.4" r="4.2" fill="url(#hotY)"/>
<circle cx="766.0" cy="170.4" r="4.2" fill="url(#hotY)"/>
<circle cx="789.1" cy="170.4" r="4.2" fill="url(#hotY)"/>
<circle cx="823.9" cy="170.4" r="4.2" fill="url(#hotY)"/>
<circle cx="847.0" cy="170.4" r="4.2" fill="url(#hotY)"/>
<circle cx="881.7" cy="170.4" r="4.2" fill="url(#hotY)"/>
<circle cx="904.8" cy="170.4" r="4.2" fill="url(#hotY)"/>
<circle cx="939.5" cy="170.4" r="4.2" fill="url(#hotY)"/>
<circle cx="962.7" cy="170.4" r="4.2" fill="url(#hotY)"/>
<circle cx="997.4" cy="170.4" r="4.2" fill="url(#hotY)"/>
</g></g>
<g clip-path="url(#cBB0)">
<rect x="103.4" y="385.7" width="298.9" height="37.4" fill="#343f50"/>
<rect x="233.8" y="385.7" width="39.2" height="37.4" fill="#fff"/>
<g clip-path="url(#elk0)">
<rect x="103.4" y="227.6" width="298.9" height="195.5" fill="url(#bgB1)"/>
<ellipse cx="228" cy="385.7" rx="34" ry="11" fill="url(#glow)"/><ellipse cx="279" cy="385.7" rx="34" ry="11" fill="url(#glow)"/><ellipse cx="103.4" cy="385.7" rx="40" ry="11" fill="url(#glow)"/><ellipse cx="402.3" cy="385.7" rx="40" ry="11" fill="url(#glow)"/><circle cx="103.4" cy="385.2" r="6" fill="url(#hot)"/><circle cx="402.3" cy="385.2" r="6" fill="url(#hot)"/>
<rect x="103.4" y="227.6" width="298.9" height="195.5" fill="url(#plm0)"/>
<circle cx="233.0" cy="385.1" r="6.5" fill="url(#hot)"/>
<circle cx="273.8" cy="385.1" r="6.5" fill="url(#hot)"/>
</g>
<line x1="235.8" y1="413.4" x2="271.0" y2="413.4" stroke="#111" stroke-width="1.1"/>
<path d="M242.3 409.79999999999995 L234.4 413.4 L242.3 417.0 L239.8 413.4 Z" fill="#111"/>
<path d="M264.5 409.79999999999995 L272.4 413.4 L264.5 417.0 L267.0 413.4 Z" fill="#111"/>
</g>
<g clip-path="url(#cBB1)">
<rect x="408.6" y="385.7" width="299.1" height="37.4" fill="#343f50"/>
<rect x="516.8" y="385.7" width="82.5" height="37.4" fill="#fff"/>
<g clip-path="url(#elk1)">
<rect x="408.6" y="227.6" width="299.1" height="195.5" fill="url(#bgB2)"/>
<ellipse cx="506" cy="385.7" rx="62" ry="17" fill="url(#glow)"/><ellipse cx="610" cy="385.7" rx="62" ry="17" fill="url(#glow)"/><ellipse cx="408" cy="385.7" rx="55" ry="11" fill="url(#glow)"/><ellipse cx="708" cy="385.7" rx="55" ry="11" fill="url(#glow)"/>
<rect x="408.6" y="227.6" width="299.1" height="195.5" fill="url(#plm1)"/>
<circle cx="515.4" cy="384.6" r="11.5" fill="url(#hot)"/>
<circle cx="600.7" cy="384.6" r="11.5" fill="url(#hot)"/>
</g>
<line x1="518.8" y1="413.4" x2="597.3" y2="413.4" stroke="#111" stroke-width="1.1"/>
<path d="M525.3 409.79999999999995 L517.4 413.4 L525.3 417.0 L522.8 413.4 Z" fill="#111"/>
<path d="M590.8 409.79999999999995 L598.7 413.4 L590.8 417.0 L593.3 413.4 Z" fill="#111"/>
</g>
<g clip-path="url(#cBB2)">
<rect x="714.8" y="385.7" width="299.0" height="37.4" fill="#343f50"/>
<rect x="774.8" y="385.7" width="178.4" height="37.4" fill="#fff"/>
<g clip-path="url(#elk2)">
<rect x="714.8" y="227.6" width="299.0" height="195.5" fill="url(#bgB3)"/>
<ellipse cx="760" cy="383.7" rx="70" ry="26" fill="url(#glow)"/><ellipse cx="968" cy="383.7" rx="70" ry="26" fill="url(#glow)"/>
<rect x="714.8" y="227.6" width="299.0" height="195.5" fill="url(#plm2)"/>
<circle cx="772.4" cy="383.7" r="20" fill="url(#hot3)"/>
<circle cx="955.6" cy="383.7" r="20" fill="url(#hot3)"/>
</g>
<line x1="776.8" y1="413.4" x2="951.2" y2="413.4" stroke="#111" stroke-width="1.1"/>
<path d="M783.3 409.79999999999995 L775.4 413.4 L783.3 417.0 L780.8 413.4 Z" fill="#111"/>
<path d="M944.7 409.79999999999995 L952.6 413.4 L944.7 417.0 L947.2 413.4 Z" fill="#111"/>
</g>
<rect x="103.4" y="27.7" width="298.9" height="195.5" fill="none" stroke="#111" stroke-width="1.2"/>
<rect x="103.4" y="227.6" width="298.9" height="195.5" fill="none" stroke="#111" stroke-width="1.2"/>
<rect x="408.6" y="27.7" width="299.1" height="195.5" fill="none" stroke="#111" stroke-width="1.2"/>
<rect x="408.6" y="227.6" width="299.1" height="195.5" fill="none" stroke="#111" stroke-width="1.2"/>
<rect x="714.8" y="27.7" width="299.0" height="195.5" fill="none" stroke="#111" stroke-width="1.2"/>
<rect x="714.8" y="227.6" width="299.0" height="195.5" fill="none" stroke="#111" stroke-width="1.2"/>
<text x="119.6" y="57.7" font-size="20.6">12.44 mg/cm<tspan font-size="12.8" dy="-7.4">2</tspan></text>
<text x="423.8" y="57.7" font-size="20.6">24.88 mg/cm<tspan font-size="12.8" dy="-7.4">2</tspan></text>
<text x="729.6" y="57.7" font-size="20.6">37.32 mg/cm<tspan font-size="12.8" dy="-7.4">2</tspan></text>
<text x="254.4" y="456" font-size="20.6" text-anchor="middle">65.1 μm</text>
<text x="557.8" y="456" font-size="20.6" text-anchor="middle">138.4 μm</text>
<text x="865" y="456" font-size="20.6" text-anchor="middle">300.7 μm</text>
<!-- panel b -->
<rect x="1045.2" y="28.5" width="233.1" height="109.7" fill="#fff" stroke="#111" stroke-width="1.2"/>
<line x1="1045.2" y1="138.2" x2="1045.2" y2="142.7" stroke="#111" stroke-width="1.2"/>
<text x="1045.2" y="156" font-size="13.8" text-anchor="middle">0.0</text>
<line x1="1095.7" y1="138.2" x2="1095.7" y2="142.7" stroke="#111" stroke-width="1.2"/>
<text x="1095.7" y="156" font-size="13.8" text-anchor="middle">0.1</text>
<line x1="1146.2" y1="138.2" x2="1146.2" y2="142.7" stroke="#111" stroke-width="1.2"/>
<text x="1146.2" y="156" font-size="13.8" text-anchor="middle">0.2</text>
<line x1="1196.7" y1="138.2" x2="1196.7" y2="142.7" stroke="#111" stroke-width="1.2"/>
<text x="1196.7" y="156" font-size="13.8" text-anchor="middle">0.3</text>
<line x1="1247.2" y1="138.2" x2="1247.2" y2="142.7" stroke="#111" stroke-width="1.2"/>
<text x="1247.2" y="156" font-size="13.8" text-anchor="middle">0.4</text>
<line x1="1040.2" y1="138.2" x2="1045.2" y2="138.2" stroke="#111" stroke-width="1.2"/>
<text x="1037.2" y="143.1" font-size="14.2" text-anchor="end">0</text>
<line x1="1040.2" y1="110.3" x2="1045.2" y2="110.3" stroke="#111" stroke-width="1.2"/>
<text x="1037.2" y="115.2" font-size="14.2" text-anchor="end">3k</text>
<line x1="1040.2" y1="82.4" x2="1045.2" y2="82.4" stroke="#111" stroke-width="1.2"/>
<text x="1037.2" y="87.3" font-size="14.2" text-anchor="end">6k</text>
<line x1="1040.2" y1="54.5" x2="1045.2" y2="54.5" stroke="#111" stroke-width="1.2"/>
<text x="1037.2" y="59.4" font-size="14.2" text-anchor="end">9k</text>
<path d="M1045.2 111.7 L1048.0 119.4 L1050.7 123.1 L1053.5 124.9 L1056.3 125.8 L1059.0 126.2 L1061.8 126.4 L1064.5 126.5 L1067.3 126.5 L1070.1 126.6 L1072.8 126.6 L1075.6 126.6 L1078.4 126.6 L1081.1 126.6 L1083.9 126.6 L1086.7 126.6 L1089.4 126.6 L1092.2 126.6 L1095.0 126.6 L1097.7 126.6 L1100.5 126.6 L1103.2 126.6 L1106.0 126.6 L1108.8 126.6 L1111.5 126.6 L1114.3 126.6 L1117.1 126.6 L1119.8 126.6 L1122.6 126.5 L1125.4 126.5 L1128.1 126.4 L1130.9 126.3 L1133.6 125.9 L1136.4 125.2 L1139.2 123.8 L1141.9 120.7 L1144.7 114.5 L1146.2 39.6 L1148.7 99.1 L1151.3 122.9 L1153.8 128.0 L1156.3 132.4 L1158.8 134.7 L1161.4 135.4 L1163.9 134.7 L1166.4 132.4 L1168.9 128.0 L1171.5 122.9 L1174.0 99.1 L1176.5 39.6 L1178.0 115.4 L1180.8 121.2 L1183.6 124.0 L1186.4 125.3 L1189.2 126.0 L1192.0 126.3 L1194.7 126.4 L1197.5 126.5 L1200.3 126.5 L1203.1 126.6 L1205.9 126.6 L1208.7 126.6 L1211.5 126.6 L1214.2 126.6 L1217.0 126.6 L1219.8 126.6 L1222.6 126.6 L1225.4 126.6 L1228.2 126.6 L1231.0 126.6 L1233.7 126.6 L1236.5 126.6 L1239.3 126.6 L1242.1 126.6 L1244.9 126.6 L1247.7 126.6 L1250.4 126.6 L1253.2 126.6 L1256.0 126.5 L1258.8 126.5 L1261.6 126.4 L1264.4 126.3 L1267.2 126.0 L1269.9 125.3 L1272.7 124.0 L1275.5 121.2 L1278.3 115.4" fill="none" stroke="#444" stroke-width="0.9"/>
<g clip-path="url(#cb28)" fill="#5f9696" stroke="#2f4f4f" stroke-width="0.7">
<circle cx="1045.2" cy="111.7" r="2.85"/>
<circle cx="1048.0" cy="119.4" r="2.85"/>
<circle cx="1050.7" cy="123.1" r="2.85"/>
<circle cx="1053.5" cy="124.9" r="2.85"/>
<circle cx="1056.3" cy="125.8" r="2.85"/>
<circle cx="1059.0" cy="126.2" r="2.85"/>
<circle cx="1061.8" cy="126.4" r="2.85"/>
<circle cx="1064.5" cy="126.5" r="2.85"/>
<circle cx="1067.3" cy="126.5" r="2.85"/>
<circle cx="1070.1" cy="126.6" r="2.85"/>
<circle cx="1072.8" cy="126.6" r="2.85"/>
<circle cx="1075.6" cy="126.6" r="2.85"/>
<circle cx="1078.4" cy="126.6" r="2.85"/>
<circle cx="1081.1" cy="126.6" r="2.85"/>
<circle cx="1083.9" cy="126.6" r="2.85"/>
<circle cx="1086.7" cy="126.6" r="2.85"/>
<circle cx="1089.4" cy="126.6" r="2.85"/>
<circle cx="1092.2" cy="126.6" r="2.85"/>
<circle cx="1095.0" cy="126.6" r="2.85"/>
<circle cx="1097.7" cy="126.6" r="2.85"/>
<circle cx="1100.5" cy="126.6" r="2.85"/>
<circle cx="1103.2" cy="126.6" r="2.85"/>
<circle cx="1106.0" cy="126.6" r="2.85"/>
<circle cx="1108.8" cy="126.6" r="2.85"/>
<circle cx="1111.5" cy="126.6" r="2.85"/>
<circle cx="1114.3" cy="126.6" r="2.85"/>
<circle cx="1117.1" cy="126.6" r="2.85"/>
<circle cx="1119.8" cy="126.6" r="2.85"/>
<circle cx="1122.6" cy="126.5" r="2.85"/>
<circle cx="1125.4" cy="126.5" r="2.85"/>
<circle cx="1128.1" cy="126.4" r="2.85"/>
<circle cx="1130.9" cy="126.3" r="2.85"/>
<circle cx="1133.6" cy="125.9" r="2.85"/>
<circle cx="1136.4" cy="125.2" r="2.85"/>
<circle cx="1139.2" cy="123.8" r="2.85"/>
<circle cx="1141.9" cy="120.7" r="2.85"/>
<circle cx="1144.7" cy="114.5" r="2.85"/>
<circle cx="1146.2" cy="39.6" r="2.85"/>
<circle cx="1148.7" cy="99.1" r="2.85"/>
<circle cx="1151.3" cy="122.9" r="2.85"/>
<circle cx="1153.8" cy="128.0" r="2.85"/>
<circle cx="1156.3" cy="132.4" r="2.85"/>
<circle cx="1158.8" cy="134.7" r="2.85"/>
<circle cx="1161.4" cy="135.4" r="2.85"/>
<circle cx="1163.9" cy="134.7" r="2.85"/>
<circle cx="1166.4" cy="132.4" r="2.85"/>
<circle cx="1168.9" cy="128.0" r="2.85"/>
<circle cx="1171.5" cy="122.9" r="2.85"/>
<circle cx="1174.0" cy="99.1" r="2.85"/>
<circle cx="1176.5" cy="39.6" r="2.85"/>
<circle cx="1178.0" cy="115.4" r="2.85"/>
<circle cx="1180.8" cy="121.2" r="2.85"/>
<circle cx="1183.6" cy="124.0" r="2.85"/>
<circle cx="1186.4" cy="125.3" r="2.85"/>
<circle cx="1189.2" cy="126.0" r="2.85"/>
<circle cx="1192.0" cy="126.3" r="2.85"/>
<circle cx="1194.7" cy="126.4" r="2.85"/>
<circle cx="1197.5" cy="126.5" r="2.85"/>
<circle cx="1200.3" cy="126.5" r="2.85"/>
<circle cx="1203.1" cy="126.6" r="2.85"/>
<circle cx="1205.9" cy="126.6" r="2.85"/>
<circle cx="1208.7" cy="126.6" r="2.85"/>
<circle cx="1211.5" cy="126.6" r="2.85"/>
<circle cx="1214.2" cy="126.6" r="2.85"/>
<circle cx="1217.0" cy="126.6" r="2.85"/>
<circle cx="1219.8" cy="126.6" r="2.85"/>
<circle cx="1222.6" cy="126.6" r="2.85"/>
<circle cx="1225.4" cy="126.6" r="2.85"/>
<circle cx="1228.2" cy="126.6" r="2.85"/>
<circle cx="1231.0" cy="126.6" r="2.85"/>
<circle cx="1233.7" cy="126.6" r="2.85"/>
<circle cx="1236.5" cy="126.6" r="2.85"/>
<circle cx="1239.3" cy="126.6" r="2.85"/>
<circle cx="1242.1" cy="126.6" r="2.85"/>
<circle cx="1244.9" cy="126.6" r="2.85"/>
<circle cx="1247.7" cy="126.6" r="2.85"/>
<circle cx="1250.4" cy="126.6" r="2.85"/>
<circle cx="1253.2" cy="126.6" r="2.85"/>
<circle cx="1256.0" cy="126.5" r="2.85"/>
<circle cx="1258.8" cy="126.5" r="2.85"/>
<circle cx="1261.6" cy="126.4" r="2.85"/>
<circle cx="1264.4" cy="126.3" r="2.85"/>
<circle cx="1267.2" cy="126.0" r="2.85"/>
<circle cx="1269.9" cy="125.3" r="2.85"/>
<circle cx="1272.7" cy="124.0" r="2.85"/>
<circle cx="1275.5" cy="121.2" r="2.85"/>
<circle cx="1278.3" cy="115.4" r="2.85"/>
</g>
<rect x="1045.2" y="28.5" width="233.1" height="109.7" fill="none" stroke="#111" stroke-width="1.2"/>
<rect x="1045.2" y="166.6" width="233.1" height="109.3" fill="#fff" stroke="#111" stroke-width="1.2"/>
<line x1="1045.2" y1="275.9" x2="1045.2" y2="280.4" stroke="#111" stroke-width="1.2"/>
<text x="1045.2" y="294.4" font-size="13.8" text-anchor="middle">0.0</text>
<line x1="1088.3" y1="275.9" x2="1088.3" y2="280.4" stroke="#111" stroke-width="1.2"/>
<text x="1088.3" y="294.4" font-size="13.8" text-anchor="middle">0.1</text>
<line x1="1131.3" y1="275.9" x2="1131.3" y2="280.4" stroke="#111" stroke-width="1.2"/>
<text x="1131.3" y="294.4" font-size="13.8" text-anchor="middle">0.2</text>
<line x1="1174.4" y1="275.9" x2="1174.4" y2="280.4" stroke="#111" stroke-width="1.2"/>
<text x="1174.4" y="294.4" font-size="13.8" text-anchor="middle">0.3</text>
<line x1="1217.4" y1="275.9" x2="1217.4" y2="280.4" stroke="#111" stroke-width="1.2"/>
<text x="1217.4" y="294.4" font-size="13.8" text-anchor="middle">0.4</text>
<line x1="1260.5" y1="275.9" x2="1260.5" y2="280.4" stroke="#111" stroke-width="1.2"/>
<text x="1260.5" y="294.4" font-size="13.8" text-anchor="middle">0.5</text>
<line x1="1040.2" y1="275.9" x2="1045.2" y2="275.9" stroke="#111" stroke-width="1.2"/>
<text x="1037.2" y="280.8" font-size="14.2" text-anchor="end">0</text>
<line x1="1040.2" y1="246.5" x2="1045.2" y2="246.5" stroke="#111" stroke-width="1.2"/>
<text x="1037.2" y="251.4" font-size="14.2" text-anchor="end">2k</text>
<line x1="1040.2" y1="217.1" x2="1045.2" y2="217.1" stroke="#111" stroke-width="1.2"/>
<text x="1037.2" y="222.0" font-size="14.2" text-anchor="end">4k</text>
<line x1="1040.2" y1="187.7" x2="1045.2" y2="187.7" stroke="#111" stroke-width="1.2"/>
<text x="1037.2" y="192.6" font-size="14.2" text-anchor="end">6k</text>
<path d="M1045.2 248.0 L1049.2 255.4 L1053.3 259.0 L1057.3 260.7 L1061.3 261.6 L1065.3 262.0 L1069.4 262.2 L1073.4 262.3 L1077.4 262.3 L1081.5 262.4 L1085.5 262.4 L1089.5 262.4 L1093.5 262.4 L1097.6 262.3 L1101.6 262.3 L1105.6 262.2 L1109.7 262.0 L1113.7 261.5 L1117.7 260.6 L1121.7 258.8 L1125.8 255.0 L1129.8 247.2 L1131.3 174.0 L1135.0 214.2 L1138.7 252.4 L1142.5 257.5 L1146.2 262.9 L1149.9 267.0 L1153.6 269.6 L1157.3 271.1 L1161.0 271.5 L1164.7 271.1 L1168.4 269.6 L1172.2 267.0 L1175.9 262.9 L1179.6 257.5 L1183.3 252.4 L1187.0 214.2 L1190.7 174.0 L1192.2 250.2 L1196.2 256.3 L1200.1 259.4 L1204.0 260.9 L1207.9 261.6 L1211.8 262.0 L1215.7 262.2 L1219.6 262.3 L1223.5 262.3 L1227.4 262.4 L1231.4 262.4 L1235.3 262.4 L1239.2 262.4 L1243.1 262.3 L1247.0 262.3 L1250.9 262.3 L1254.8 262.2 L1258.7 262.0 L1262.7 261.5 L1266.6 260.7 L1270.5 259.0 L1274.4 255.6 L1278.3 248.7" fill="none" stroke="#444" stroke-width="0.9"/>
<g clip-path="url(#cb166)" fill="#5f9696" stroke="#2f4f4f" stroke-width="0.7">
<circle cx="1045.2" cy="248.0" r="2.85"/>
<circle cx="1049.2" cy="255.4" r="2.85"/>
<circle cx="1053.3" cy="259.0" r="2.85"/>
<circle cx="1057.3" cy="260.7" r="2.85"/>
<circle cx="1061.3" cy="261.6" r="2.85"/>
<circle cx="1065.3" cy="262.0" r="2.85"/>
<circle cx="1069.4" cy="262.2" r="2.85"/>
<circle cx="1073.4" cy="262.3" r="2.85"/>
<circle cx="1077.4" cy="262.3" r="2.85"/>
<circle cx="1081.5" cy="262.4" r="2.85"/>
<circle cx="1085.5" cy="262.4" r="2.85"/>
<circle cx="1089.5" cy="262.4" r="2.85"/>
<circle cx="1093.5" cy="262.4" r="2.85"/>
<circle cx="1097.6" cy="262.3" r="2.85"/>
<circle cx="1101.6" cy="262.3" r="2.85"/>
<circle cx="1105.6" cy="262.2" r="2.85"/>
<circle cx="1109.7" cy="262.0" r="2.85"/>
<circle cx="1113.7" cy="261.5" r="2.85"/>
<circle cx="1117.7" cy="260.6" r="2.85"/>
<circle cx="1121.7" cy="258.8" r="2.85"/>
<circle cx="1125.8" cy="255.0" r="2.85"/>
<circle cx="1129.8" cy="247.2" r="2.85"/>
<circle cx="1131.3" cy="174.0" r="2.85"/>
<circle cx="1135.0" cy="214.2" r="2.85"/>
<circle cx="1138.7" cy="252.4" r="2.85"/>
<circle cx="1142.5" cy="257.5" r="2.85"/>
<circle cx="1146.2" cy="262.9" r="2.85"/>
<circle cx="1149.9" cy="267.0" r="2.85"/>
<circle cx="1153.6" cy="269.6" r="2.85"/>
<circle cx="1157.3" cy="271.1" r="2.85"/>
<circle cx="1161.0" cy="271.5" r="2.85"/>
<circle cx="1164.7" cy="271.1" r="2.85"/>
<circle cx="1168.4" cy="269.6" r="2.85"/>
<circle cx="1172.2" cy="267.0" r="2.85"/>
<circle cx="1175.9" cy="262.9" r="2.85"/>
<circle cx="1179.6" cy="257.5" r="2.85"/>
<circle cx="1183.3" cy="252.4" r="2.85"/>
<circle cx="1187.0" cy="214.2" r="2.85"/>
<circle cx="1190.7" cy="174.0" r="2.85"/>
<circle cx="1192.2" cy="250.2" r="2.85"/>
<circle cx="1196.2" cy="256.3" r="2.85"/>
<circle cx="1200.1" cy="259.4" r="2.85"/>
<circle cx="1204.0" cy="260.9" r="2.85"/>
<circle cx="1207.9" cy="261.6" r="2.85"/>
<circle cx="1211.8" cy="262.0" r="2.85"/>
<circle cx="1215.7" cy="262.2" r="2.85"/>
<circle cx="1219.6" cy="262.3" r="2.85"/>
<circle cx="1223.5" cy="262.3" r="2.85"/>
<circle cx="1227.4" cy="262.4" r="2.85"/>
<circle cx="1231.4" cy="262.4" r="2.85"/>
<circle cx="1235.3" cy="262.4" r="2.85"/>
<circle cx="1239.2" cy="262.4" r="2.85"/>
<circle cx="1243.1" cy="262.3" r="2.85"/>
<circle cx="1247.0" cy="262.3" r="2.85"/>
<circle cx="1250.9" cy="262.3" r="2.85"/>
<circle cx="1254.8" cy="262.2" r="2.85"/>
<circle cx="1258.7" cy="262.0" r="2.85"/>
<circle cx="1262.7" cy="261.5" r="2.85"/>
<circle cx="1266.6" cy="260.7" r="2.85"/>
<circle cx="1270.5" cy="259.0" r="2.85"/>
<circle cx="1274.4" cy="255.6" r="2.85"/>
<circle cx="1278.3" cy="248.7" r="2.85"/>
</g>
<rect x="1045.2" y="166.6" width="233.1" height="109.3" fill="none" stroke="#111" stroke-width="1.2"/>
<rect x="1045.2" y="304.4" width="233.1" height="109.9" fill="#fff" stroke="#111" stroke-width="1.2"/>
<line x1="1045.2" y1="414.3" x2="1045.2" y2="418.8" stroke="#111" stroke-width="1.2"/>
<text x="1045.2" y="431.6" font-size="13.8" text-anchor="middle">0.0</text>
<line x1="1078.5" y1="414.3" x2="1078.5" y2="418.8" stroke="#111" stroke-width="1.2"/>
<text x="1078.5" y="431.6" font-size="13.8" text-anchor="middle">0.1</text>
<line x1="1111.8" y1="414.3" x2="1111.8" y2="418.8" stroke="#111" stroke-width="1.2"/>
<text x="1111.8" y="431.6" font-size="13.8" text-anchor="middle">0.2</text>
<line x1="1145.1" y1="414.3" x2="1145.1" y2="418.8" stroke="#111" stroke-width="1.2"/>
<text x="1145.1" y="431.6" font-size="13.8" text-anchor="middle">0.3</text>
<line x1="1178.4" y1="414.3" x2="1178.4" y2="418.8" stroke="#111" stroke-width="1.2"/>
<text x="1178.4" y="431.6" font-size="13.8" text-anchor="middle">0.4</text>
<line x1="1211.7" y1="414.3" x2="1211.7" y2="418.8" stroke="#111" stroke-width="1.2"/>
<text x="1211.7" y="431.6" font-size="13.8" text-anchor="middle">0.5</text>
<line x1="1245.0" y1="414.3" x2="1245.0" y2="418.8" stroke="#111" stroke-width="1.2"/>
<text x="1245.0" y="431.6" font-size="13.8" text-anchor="middle">0.6</text>
<line x1="1278.3" y1="414.3" x2="1278.3" y2="418.8" stroke="#111" stroke-width="1.2"/>
<text x="1278.3" y="431.6" font-size="13.8" text-anchor="middle">0.7</text>
<line x1="1040.2" y1="414.3" x2="1045.2" y2="414.3" stroke="#111" stroke-width="1.2"/>
<text x="1037.2" y="419.2" font-size="14.2" text-anchor="end">0</text>
<line x1="1040.2" y1="374.4" x2="1045.2" y2="374.4" stroke="#111" stroke-width="1.2"/>
<text x="1037.2" y="379.3" font-size="14.2" text-anchor="end">2k</text>
<line x1="1040.2" y1="334.5" x2="1045.2" y2="334.5" stroke="#111" stroke-width="1.2"/>
<text x="1037.2" y="339.4" font-size="14.2" text-anchor="end">4k</text>
<path d="M1045.2 388.3 L1049.5 392.2 L1053.9 394.7 L1058.2 396.3 L1062.6 397.3 L1066.9 397.9 L1071.2 398.3 L1075.6 398.4 L1079.9 398.4 L1084.3 398.2 L1088.6 397.7 L1092.9 397.0 L1097.3 395.8 L1101.6 393.9 L1105.9 390.9 L1110.3 386.4 L1111.8 313.4 L1116.0 340.5 L1120.1 366.4 L1124.3 391.4 L1128.5 395.5 L1132.6 399.0 L1136.8 402.0 L1140.9 404.4 L1145.1 406.3 L1149.3 407.7 L1153.4 408.7 L1157.6 409.2 L1161.8 409.3 L1165.9 409.2 L1170.1 408.7 L1174.2 407.7 L1178.4 406.3 L1182.6 404.4 L1186.7 402.0 L1190.9 399.0 L1195.0 395.5 L1199.2 391.4 L1203.4 366.4 L1207.5 340.5 L1211.7 313.4 L1213.2 387.3 L1217.6 391.6 L1221.9 394.3 L1226.2 396.0 L1230.6 397.1 L1234.9 397.8 L1239.2 398.2 L1243.6 398.4 L1247.9 398.4 L1252.3 398.2 L1256.6 397.8 L1260.9 397.1 L1265.3 396.0 L1269.6 394.3 L1274.0 391.6 L1278.3 387.3" fill="none" stroke="#444" stroke-width="0.9"/>
<g clip-path="url(#cb304)" fill="#5f9696" stroke="#2f4f4f" stroke-width="0.7">
<circle cx="1045.2" cy="388.3" r="2.85"/>
<circle cx="1049.5" cy="392.2" r="2.85"/>
<circle cx="1053.9" cy="394.7" r="2.85"/>
<circle cx="1058.2" cy="396.3" r="2.85"/>
<circle cx="1062.6" cy="397.3" r="2.85"/>
<circle cx="1066.9" cy="397.9" r="2.85"/>
<circle cx="1071.2" cy="398.3" r="2.85"/>
<circle cx="1075.6" cy="398.4" r="2.85"/>
<circle cx="1079.9" cy="398.4" r="2.85"/>
<circle cx="1084.3" cy="398.2" r="2.85"/>
<circle cx="1088.6" cy="397.7" r="2.85"/>
<circle cx="1092.9" cy="397.0" r="2.85"/>
<circle cx="1097.3" cy="395.8" r="2.85"/>
<circle cx="1101.6" cy="393.9" r="2.85"/>
<circle cx="1105.9" cy="390.9" r="2.85"/>
<circle cx="1110.3" cy="386.4" r="2.85"/>
<circle cx="1111.8" cy="313.4" r="2.85"/>
<circle cx="1116.0" cy="340.5" r="2.85"/>
<circle cx="1120.1" cy="366.4" r="2.85"/>
<circle cx="1124.3" cy="391.4" r="2.85"/>
<circle cx="1128.5" cy="395.5" r="2.85"/>
<circle cx="1132.6" cy="399.0" r="2.85"/>
<circle cx="1136.8" cy="402.0" r="2.85"/>
<circle cx="1140.9" cy="404.4" r="2.85"/>
<circle cx="1145.1" cy="406.3" r="2.85"/>
<circle cx="1149.3" cy="407.7" r="2.85"/>
<circle cx="1153.4" cy="408.7" r="2.85"/>
<circle cx="1157.6" cy="409.2" r="2.85"/>
<circle cx="1161.8" cy="409.3" r="2.85"/>
<circle cx="1165.9" cy="409.2" r="2.85"/>
<circle cx="1170.1" cy="408.7" r="2.85"/>
<circle cx="1174.2" cy="407.7" r="2.85"/>
<circle cx="1178.4" cy="406.3" r="2.85"/>
<circle cx="1182.6" cy="404.4" r="2.85"/>
<circle cx="1186.7" cy="402.0" r="2.85"/>
<circle cx="1190.9" cy="399.0" r="2.85"/>
<circle cx="1195.0" cy="395.5" r="2.85"/>
<circle cx="1199.2" cy="391.4" r="2.85"/>
<circle cx="1203.4" cy="366.4" r="2.85"/>
<circle cx="1207.5" cy="340.5" r="2.85"/>
<circle cx="1211.7" cy="313.4" r="2.85"/>
<circle cx="1213.2" cy="387.3" r="2.85"/>
<circle cx="1217.6" cy="391.6" r="2.85"/>
<circle cx="1221.9" cy="394.3" r="2.85"/>
<circle cx="1226.2" cy="396.0" r="2.85"/>
<circle cx="1230.6" cy="397.1" r="2.85"/>
<circle cx="1234.9" cy="397.8" r="2.85"/>
<circle cx="1239.2" cy="398.2" r="2.85"/>
<circle cx="1243.6" cy="398.4" r="2.85"/>
<circle cx="1247.9" cy="398.4" r="2.85"/>
<circle cx="1252.3" cy="398.2" r="2.85"/>
<circle cx="1256.6" cy="397.8" r="2.85"/>
<circle cx="1260.9" cy="397.1" r="2.85"/>
<circle cx="1265.3" cy="396.0" r="2.85"/>
<circle cx="1269.6" cy="394.3" r="2.85"/>
<circle cx="1274.0" cy="391.6" r="2.85"/>
<circle cx="1278.3" cy="387.3" r="2.85"/>
</g>
<rect x="1045.2" y="304.4" width="233.1" height="109.9" fill="none" stroke="#111" stroke-width="1.2"/>
<text x="1165.4" y="454.6" font-size="19.2" text-anchor="middle">Electrode surface (mm)</text>
<line x1="1146.6" y1="50.1" x2="1176.2" y2="50.1" stroke="#222" stroke-width="0.7"/>
<path d="M1151.6 47.5 L1147.0 50.1 L1151.6 52.7" fill="none" stroke="#111" stroke-width="0.9"/>
<path d="M1171.2 47.5 L1175.8 50.1 L1171.2 52.7" fill="none" stroke="#111" stroke-width="0.9"/>
<line x1="1132.2" y1="184.7" x2="1191.2" y2="184.7" stroke="#222" stroke-width="0.7"/>
<path d="M1137.2 182.1 L1132.6 184.7 L1137.2 187.29999999999998" fill="none" stroke="#111" stroke-width="0.9"/>
<path d="M1186.2 182.1 L1190.8 184.7 L1186.2 187.29999999999998" fill="none" stroke="#111" stroke-width="0.9"/>
<line x1="1112.6" y1="322.9" x2="1210.6" y2="322.9" stroke="#222" stroke-width="0.7"/>
<path d="M1117.6 320.29999999999995 L1113.0 322.9 L1117.6 325.5" fill="none" stroke="#111" stroke-width="0.9"/>
<path d="M1205.6 320.29999999999995 L1210.2 322.9 L1205.6 325.5" fill="none" stroke="#111" stroke-width="0.9"/>
<text x="1187.3" y="55.2" font-size="14.1" style="fill:#b86a2c">65.1 μm</text>
<text x="1202.3" y="190.2" font-size="14.1" style="fill:#b86a2c">138.4 μm</text>
<text x="1131.6" y="347.9" font-size="14.1" style="fill:#b86a2c">300.7 μm</text>
<text x="1056.2" y="58" font-size="28.5" font-weight="bold">b</text>
<text x="1053" y="91" font-size="14">Dense region</text>
<text x="1193.6" y="87.8" font-size="14">Crack region</text>
<line x1="1163" y1="83.1" x2="1184" y2="83.1" stroke="#111" stroke-width="1.8"/><path d="M1180.5 78.6 L1191 83.1 L1180.5 87.6 L1183 83.1 Z" fill="#111"/>
<line x1="1094.8" y1="117" x2="1087.5" y2="103" stroke="#111" stroke-width="1.6"/><path d="M1085.2 99 L1093.2 104.6 L1088.6 105.2 L1086.0 108.9 Z" fill="#111"/>
<!-- panel c -->
<rect x="92.3" y="576.2" width="135.4" height="40.8" fill="url(#sub)"/>
<rect x="244.6" y="576.2" width="134.8" height="40.8" fill="url(#sub)"/>
<rect x="396.8" y="576.2" width="135.2" height="40.8" fill="url(#sub)"/>
<g clip-path="url(#cc0)"><path d="M197.4 536.5 L197.5 539.6 L197.8 541.3 L195.7 546.1 L195.6 547.5 L196.2 550.8 L194.7 553.6 L192.6 555.4 L191.1 559.6 L188.9 561.6 L187.3 562.2 L185.2 565.4 L181.9 566.0 L180.7 568.6 L177.8 571.2 L175.0 572.4 L171.5 573.3 L168.7 574.3 L166.9 573.0 L162.1 573.5 L161.1 574.2 L157.3 573.7 L154.1 573.7 L150.8 573.4 L148.5 573.5 L145.9 572.4 L143.6 571.4 L140.6 567.9 L138.5 568.3 L136.4 565.4 L133.6 562.6 L132.0 561.2 L128.7 557.7 L128.5 557.4 L125.2 554.4 L124.8 550.1 L123.4 548.8 L124.1 544.1 L122.7 541.3 L122.8 539.0 L122.9 537.6 L122.2 534.6 L122.0 529.4 L123.4 526.4 L123.1 524.4 L125.3 521.1 L125.0 520.0 L127.3 517.7 L130.2 513.8 L131.1 511.8 L133.5 509.8 L135.5 507.9 L138.7 505.7 L140.0 504.6 L142.1 502.1 L146.6 501.5 L148.4 499.1 L151.0 499.8 L152.9 499.1 L157.3 497.6 L160.3 498.3 L163.4 498.3 L166.4 499.4 L167.7 498.5 L172.2 501.4 L173.9 501.3 L177.5 502.1 L179.5 503.6 L182.0 505.9 L184.1 507.3 L187.5 508.4 L189.0 512.4 L190.3 513.4 L193.0 516.0 L193.1 519.0 L195.5 520.9 L195.7 524.3 L197.6 527.4 L198.4 529.7 L197.4 533.8Z" fill="#c8242c" filter="url(#spk)"/></g>
<g clip-path="url(#cc1)"><path d="M259.4 575.4 L259.1 571.8 L261.1 569.3 L263.5 568.8 L263.7 565.5 L267.0 564.3 L268.7 561.6 L268.3 559.5 L271.1 557.5 L271.2 555.8 L272.6 553.8 L275.0 551.2 L274.0 550.9 L277.3 548.8 L277.4 546.5 L279.8 542.5 L280.6 541.8 L281.8 538.8 L282.3 536.2 L283.5 533.4 L285.8 531.7 L287.7 528.9 L289.6 528.9 L291.2 527.8 L292.8 525.4 L292.2 524.2 L294.2 521.5 L298.1 521.1 L300.1 521.1 L303.3 518.6 L304.7 520.6 L307.4 521.2 L309.4 520.5 L312.1 522.8 L313.2 523.9 L317.0 525.1 L318.8 524.4 L320.3 527.7 L320.9 527.5 L323.4 529.7 L325.8 531.1 L328.7 531.6 L328.9 533.5 L331.1 535.0 L334.8 538.5 L334.3 539.3 L336.6 540.6 L338.3 543.0 L340.5 544.0 L341.3 545.6 L342.8 547.8 L345.9 549.0 L346.0 550.2 L348.4 552.9 L351.0 554.0 L352.7 556.3 L353.4 557.5 L355.2 560.1 L356.6 561.9 L358.3 562.6 L360.1 565.5 L360.5 566.6 L362.8 569.4 L365.5 569.9 L367.0 572.7 L365.6 575.7 L363.1 576.5 L362.1 576.7 L360.2 576.2 L357.8 575.9 L354.0 576.0 L351.5 574.9 L351.2 574.7 L347.3 574.8 L346.9 575.0 L342.6 576.6 L340.6 576.6 L339.7 576.5 L338.1 575.9 L335.5 574.6 L333.2 575.7 L330.8 574.8 L328.7 576.7 L324.8 575.3 L323.7 576.5 L320.7 574.9 L318.5 575.9 L317.4 575.4 L314.3 575.4 L312.0 575.5 L309.1 575.6 L309.0 575.4 L306.2 574.8 L303.8 576.2 L301.5 575.7 L298.8 576.0 L297.6 574.8 L293.4 576.2 L293.2 575.6 L289.8 576.1 L286.9 575.0 L284.7 575.8 L282.7 574.9 L281.4 576.7 L278.2 576.0 L276.2 576.4 L274.4 575.0 L271.3 574.4 L269.7 575.2 L266.7 575.2 L264.8 576.2 L262.1 576.7 L260.7 575.7Z" fill="#c8242c" filter="url(#spk)"/><circle cx="324" cy="501.3" r="2.1" fill="#c8262e"/><circle cx="323.4" cy="500.7" r="0.8" fill="#f4c8c8"/></g>
<g clip-path="url(#cc2)"><path d="M418.9 576.8 L421.3 572.1 L422.7 570.5 L425.9 567.8 L427.6 567.4 L428.9 564.0 L430.4 563.5 L433.4 562.4 L435.8 559.0 L436.3 557.4 L438.5 557.2 L442.4 556.5 L443.2 555.1 L445.6 552.8 L449.0 551.1 L450.0 552.1 L453.0 550.0 L456.2 549.9 L457.3 548.5 L460.8 548.2 L462.8 547.8 L467.1 546.7 L468.5 545.8 L470.3 546.8 L472.3 547.0 L476.6 544.8 L479.1 545.2 L481.1 546.2 L482.3 546.1 L485.6 546.5 L487.0 546.5 L491.1 546.4 L492.3 545.6 L494.4 546.6 L497.1 547.9 L499.0 547.2 L501.3 548.8 L502.5 550.6 L505.9 549.8 L508.8 551.0 L509.6 553.5 L512.2 554.6 L514.4 555.9 L515.5 556.7 L517.0 559.5 L520.4 560.9 L522.1 562.2 L522.7 564.0 L525.9 564.9 L527.0 567.4 L529.6 569.6 L530.6 571.8 L531.6 574.9 L531.6 577.3 L528.9 575.9 L526.6 575.6 L526.0 577.0 L522.4 575.7 L520.7 577.0 L519.5 577.0 L516.7 575.6 L514.0 575.7 L512.1 576.6 L509.1 575.8 L508.3 575.3 L506.1 577.3 L504.3 576.1 L501.1 576.6 L499.1 577.5 L497.0 575.9 L495.2 576.3 L492.4 576.9 L488.7 577.0 L488.1 576.3 L485.5 576.2 L482.5 576.4 L479.9 576.3 L479.2 576.1 L476.8 577.4 L475.3 575.4 L472.9 576.5 L468.9 575.9 L467.1 575.2 L465.6 577.2 L462.9 577.1 L461.6 575.3 L459.7 576.4 L457.7 576.7 L455.0 575.8 L453.0 577.2 L450.9 576.0 L448.4 576.1 L444.7 575.0 L442.4 575.4 L440.3 576.1 L439.4 576.2 L436.5 576.4 L434.0 576.0 L432.9 575.8 L429.3 577.0 L428.4 575.7 L425.3 576.1 L423.7 575.4 L420.0 575.3Z" fill="#c8242c" filter="url(#spk)"/><circle cx="421.4" cy="536.6" r="2.1" fill="#c8262e"/><circle cx="420.79999999999995" cy="536.0" r="0.8" fill="#f4c8c8"/></g>
<rect x="92.3" y="736.6" width="49.2" height="42.4" fill="url(#sub2)"/>
<rect x="177.0" y="736.6" width="50.7" height="42.4" fill="url(#sub2)"/>
<rect x="244.6" y="736.6" width="49.2" height="42.4" fill="url(#sub2)"/>
<rect x="329.2" y="736.6" width="50.2" height="42.4" fill="url(#sub2)"/>
<rect x="396.8" y="736.6" width="48.8" height="42.4" fill="url(#sub2)"/>
<rect x="481.8" y="736.6" width="50.2" height="42.4" fill="url(#sub2)"/>
<g clip-path="url(#cd0)"><path d="M198.7 698.3 L197.7 701.4 L196.8 704.4 L196.6 707.2 L195.0 710.0 L194.2 713.7 L192.8 715.3 L192.2 718.8 L191.2 720.5 L188.6 723.6 L185.7 727.2 L183.9 727.0 L182.3 729.1 L180.1 731.1 L176.3 732.0 L175.0 733.7 L172.4 735.3 L169.9 735.6 L165.3 736.2 L163.7 737.3 L159.6 736.2 L157.5 738.1 L154.3 735.5 L150.0 735.1 L147.5 734.2 L144.4 734.6 L143.7 732.3 L141.3 731.4 L138.4 730.9 L136.5 726.9 L132.7 726.3 L132.3 722.8 L128.8 722.4 L126.8 718.7 L125.7 716.9 L126.0 712.9 L124.4 711.5 L124.0 708.2 L123.5 704.8 L122.0 701.5 L122.7 699.2 L121.7 695.4 L123.0 693.5 L123.7 690.1 L123.8 686.6 L125.5 683.6 L126.1 682.6 L128.1 678.4 L128.6 677.7 L131.5 675.5 L134.0 672.2 L136.3 671.0 L137.3 668.1 L139.2 666.7 L143.8 664.4 L145.7 663.3 L147.3 663.4 L150.5 661.3 L153.2 662.0 L157.2 660.3 L159.4 662.3 L162.3 661.6 L165.8 662.3 L169.1 663.1 L171.8 662.3 L173.7 663.2 L178.0 664.4 L178.7 668.0 L181.6 669.4 L183.6 670.3 L186.2 673.1 L189.1 674.9 L191.4 677.8 L191.9 679.7 L193.7 681.0 L195.8 684.9 L196.9 686.8 L196.9 690.3 L198.1 692.2 L197.4 696.2Z" fill="#c8242c" filter="url(#spk)"/></g>
<g clip-path="url(#cd1)"><path d="M256.0 733.1 L257.7 730.6 L257.6 728.8 L256.7 725.9 L258.7 723.6 L258.5 720.3 L259.2 717.9 L262.0 716.5 L263.6 714.8 L264.6 712.4 L266.1 708.8 L268.6 708.2 L270.1 705.5 L271.2 703.5 L273.2 703.0 L273.5 701.3 L275.2 697.5 L278.5 696.3 L280.0 695.3 L281.1 694.3 L284.0 692.3 L286.4 691.8 L289.6 689.5 L290.3 688.6 L293.3 687.2 L294.9 688.0 L298.5 687.6 L301.7 687.0 L302.7 684.9 L305.0 685.3 L308.1 685.1 L310.2 686.2 L312.5 685.7 L316.4 686.9 L317.5 685.9 L321.2 686.2 L322.1 688.3 L325.6 688.3 L326.9 689.3 L330.6 690.9 L333.2 692.7 L335.2 691.9 L335.2 692.8 L337.8 694.6 L338.7 696.5 L340.6 697.3 L342.8 699.9 L345.0 700.0 L345.9 701.8 L348.9 704.0 L351.2 705.9 L351.2 705.9 L354.0 709.1 L355.0 710.8 L356.9 711.5 L357.7 712.8 L360.6 717.0 L363.0 717.9 L363.6 721.0 L365.3 722.2 L365.5 724.0 L366.2 725.2 L368.4 729.5 L369.1 730.4 L369.6 732.9 L370.7 736.9 L368.9 736.2 L365.1 737.1 L363.0 737.8 L361.8 738.0 L359.0 735.9 L356.7 737.1 L354.2 736.5 L352.5 738.0 L348.8 737.4 L347.2 737.0 L346.2 738.1 L343.3 736.3 L341.8 736.2 L338.2 737.8 L335.8 736.5 L335.1 738.1 L331.3 736.7 L329.0 736.1 L328.7 740.8 L328.2 741.7 L328.3 744.0 L328.1 747.9 L327.8 750.0 L326.8 750.8 L323.5 754.4 L321.0 754.1 L320.0 755.4 L317.4 754.6 L314.0 756.4 L311.1 756.0 L309.2 755.2 L308.4 753.4 L305.1 750.9 L304.6 750.2 L300.9 750.1 L300.2 746.6 L298.1 746.1 L295.7 742.4 L294.7 741.8 L293.5 737.1 L290.9 736.9 L289.1 738.5 L286.2 736.5 L286.1 738.2 L283.9 736.4 L280.1 738.1 L278.1 737.5 L275.5 735.9 L273.3 737.6 L272.0 737.2 L269.0 737.1 L266.7 737.1 L265.3 736.3 L262.5 738.0 L260.8 736.2 L259.6 735.8Z" fill="#c8242c" filter="url(#spk)"/></g>
<g clip-path="url(#cd2)"><path d="M396.0 706.4 L398.8 705.4 L403.4 705.8 L405.9 704.6 L406.3 706.0 L410.7 705.9 L412.9 704.4 L415.6 703.0 L417.6 703.6 L419.2 703.7 L422.1 703.3 L424.7 702.6 L427.2 702.7 L431.2 703.0 L433.4 702.3 L434.5 702.1 L436.9 699.6 L440.0 700.6 L442.1 699.8 L444.5 700.1 L447.4 698.7 L450.1 699.4 L453.7 698.3 L454.9 698.3 L456.2 697.9 L460.2 698.9 L460.5 699.2 L463.5 699.6 L465.7 697.8 L468.6 699.8 L470.8 700.1 L474.0 699.3 L475.5 700.0 L478.0 700.4 L480.9 702.4 L483.0 701.4 L484.3 702.7 L487.3 703.4 L488.0 705.1 L490.5 705.6 L493.1 709.0 L495.1 709.8 L497.8 711.3 L500.0 711.6 L501.4 712.1 L504.2 712.0 L505.6 712.6 L507.5 710.3 L510.8 710.2 L511.0 707.9 L513.6 706.8 L516.8 706.2 L518.1 706.1 L521.4 705.5 L524.3 705.4 L526.5 704.4 L530.5 706.1 L531.0 705.9 L532.6 709.4 L531.0 709.3 L532.0 712.5 L532.9 715.6 L531.6 716.9 L532.2 720.2 L531.3 721.2 L531.0 724.1 L530.9 727.0 L532.1 728.3 L531.0 729.7 L531.9 733.4 L532.1 734.3 L533.2 737.4 L529.8 736.3 L527.0 738.0 L524.3 737.1 L523.2 736.7 L521.3 738.0 L519.2 737.6 L515.4 735.9 L513.7 736.5 L510.8 737.9 L508.6 737.8 L508.1 736.1 L505.7 736.8 L501.8 736.2 L499.1 737.0 L497.6 737.8 L496.4 735.9 L493.1 736.7 L490.3 736.4 L488.3 737.5 L486.2 736.1 L483.6 736.9 L482.2 736.4 L482.0 739.3 L481.4 743.3 L478.6 745.3 L477.4 746.4 L476.2 748.3 L473.5 747.9 L472.0 750.9 L469.0 751.2 L466.1 751.6 L464.8 749.7 L462.8 751.2 L459.3 749.9 L457.3 746.6 L455.5 745.6 L453.2 744.9 L449.4 743.4 L448.8 741.9 L447.1 740.4 L445.9 737.0 L444.0 737.8 L440.8 736.0 L439.9 737.1 L436.6 737.9 L435.7 737.1 L433.8 737.8 L430.9 736.5 L426.9 737.4 L426.4 736.6 L423.6 737.2 L420.8 737.5 L419.3 736.7 L416.0 737.1 L414.3 737.5 L411.7 736.7 L409.5 736.8 L408.2 736.1 L404.7 737.0 L402.8 737.0 L400.5 736.0 L399.1 738.0 L397.7 737.0 L396.6 733.7 L396.3 731.9 L397.9 729.2 L397.9 727.7 L396.6 724.9 L397.9 722.4 L397.0 720.9 L396.1 717.9 L398.0 716.9 L397.4 714.9 L395.8 712.1 L397.4 708.6Z" fill="#c8242c" filter="url(#spk)"/><circle cx="458.2" cy="650.3" r="2.1" fill="#c8262e"/><circle cx="457.59999999999997" cy="649.6999999999999" r="0.8" fill="#f4c8c8"/></g>
<rect x="92.3" y="480.1" width="135.4" height="136.9" fill="none" stroke="#111" stroke-width="1.1"/>
<rect x="92.3" y="641.4" width="135.4" height="137.6" fill="none" stroke="#111" stroke-width="1.1"/>
<rect x="244.6" y="480.1" width="134.8" height="136.9" fill="none" stroke="#111" stroke-width="1.1"/>
<rect x="244.6" y="641.4" width="134.8" height="137.6" fill="none" stroke="#111" stroke-width="1.1"/>
<rect x="396.8" y="480.1" width="135.2" height="136.9" fill="none" stroke="#111" stroke-width="1.1"/>
<rect x="396.8" y="641.4" width="135.2" height="137.6" fill="none" stroke="#111" stroke-width="1.1"/>
<text x="18" y="492.2" font-size="28.5" font-weight="bold">c</text>
<text transform="translate(70.8,549) rotate(-90)" font-size="20.3" text-anchor="middle">CCP</text>
<text transform="translate(70.8,711) rotate(-90)" font-size="20.3" text-anchor="middle">DCP</text>
<text x="159.4" y="801.7" font-size="17.4" text-anchor="middle">t = 0 ps</text>
<text x="312.3" y="801.7" font-size="17.4" text-anchor="middle">t = 100 ps</text>
<text x="470.2" y="801.7" font-size="17.4" text-anchor="middle">t = 500 ps</text>
<text x="311.4" y="828.5" font-size="19.8" text-anchor="middle">MD simulations</text>
<!-- panel d -->
<rect x="618.4" y="479.4" width="378.3" height="302.6" fill="#fff"/>
<rect x="642.4" y="530.8" width="38" height="89.2" fill="#b9d6f0"/>
<path d="M673 529.8 L696.6 529.4 L696.6 620.4 L673 620 C676 600 677.5 590 672.8 580 L672.8 570 C677 560 676 545 673 529.8Z" fill="url(#elg)"/>
<rect x="696.6" y="529.6" width="5.8" height="90.6" fill="url(#xx)"/>
<rect x="672" y="570.2" width="24.8" height="9.4" fill="#fff"/>
<rect x="680" y="536.5" width="7.4" height="10.5" fill="none" stroke="#111" stroke-width="0.8" stroke-dasharray="2 1.2"/>
<rect x="672" y="566.5" width="8.5" height="17.8" fill="none" stroke="#111" stroke-width="0.8" stroke-dasharray="2 1.2"/>
<g clip-path="url(#cdp)"><polyline points="618.4,482.3 622.6,482.4 626.8,482.6 631.0,483.1 635.2,483.7 639.4,484.5 643.6,485.5 647.8,486.7 652.0,488.0 656.2,489.6 660.4,491.3 664.6,493.1 668.8,495.2 673.0,497.4 677.2,499.7 681.5,502.2 685.7,504.9 689.9,507.7 694.1,510.7 698.3,513.8 702.5,517.1 706.7,520.5 710.9,524.1 715.1,527.8 719.3,531.6 723.5,535.5 727.7,539.5 731.9,543.7 736.1,547.9 740.3,552.3 744.5,556.7 748.7,561.3 752.9,565.9 757.1,570.6 761.3,575.4 765.5,580.3 769.7,585.2 773.9,590.2 778.1,595.2 782.3,600.2 786.5,605.3 790.7,610.5 794.9,615.6 799.1,620.8 803.3,626.0 807.5,631.2 811.8,636.4 816.0,641.6 820.2,646.8 824.4,651.9 828.6,657.1 832.8,662.2 837.0,667.2 841.2,672.2 845.4,677.2 849.6,682.1 853.8,687.0 858.0,691.8 862.2,696.5 866.4,701.1 870.6,705.7 874.8,710.1 879.0,714.5 883.2,718.7 887.4,722.9 891.6,726.9 895.8,730.8 900.0,734.6 904.2,738.3 908.4,741.9 912.6,745.3 916.8,748.6 921.0,751.7 925.2,754.7 929.4,757.5 933.7,760.2 937.9,762.7 942.1,765.0 946.3,767.2 950.5,769.3 954.7,771.1 958.9,772.8 963.1,774.4 967.3,775.7 971.5,776.9 975.7,777.9 979.9,778.7 984.1,779.3 988.3,779.8 992.5,780.0 996.7,780.1" fill="none" stroke="#07608a" stroke-width="7.6" stroke-linejoin="round"/>
<line x1="618.4" y1="631.2" x2="996.7" y2="631.2" stroke="#d03238" stroke-width="6.4"/></g>
<line x1="807.5" y1="479.4" x2="807.5" y2="782.0" stroke="#222" stroke-width="1.7" stroke-dasharray="6.5 4.6"/>
<line x1="683.5" y1="536.5" x2="690.9" y2="515.9" stroke="#111" stroke-width="0.8" stroke-dasharray="2.2 1.4"/><path d="M692.7 510.7 L688.9 515.2 L691.3 514.6 L692.8 516.6Z" fill="#111"/>
<line x1="676.5" y1="584.3" x2="715.2" y2="620.1" stroke="#111" stroke-width="0.8" stroke-dasharray="2.2 1.4"/><path d="M719.2 623.8 L716.6 618.5 L716.2 621.0 L713.7 621.6Z" fill="#111"/>
<rect x="618.4" y="479.4" width="378.3" height="302.6" fill="none" stroke="#111" stroke-width="1.3"/>
<line x1="618.4" y1="782.0" x2="618.4" y2="787.5" stroke="#111" stroke-width="1.2"/>
<text x="618.4" y="803.8" font-size="15.8" text-anchor="middle">0</text>
<line x1="649.9" y1="782.0" x2="649.9" y2="785.0" stroke="#111" stroke-width="1.2"/>
<line x1="681.5" y1="782.0" x2="681.5" y2="787.5" stroke="#111" stroke-width="1.2"/>
<text x="681.5" y="803.8" font-size="15.8" text-anchor="middle">30</text>
<line x1="713.0" y1="782.0" x2="713.0" y2="785.0" stroke="#111" stroke-width="1.2"/>
<line x1="744.5" y1="782.0" x2="744.5" y2="787.5" stroke="#111" stroke-width="1.2"/>
<text x="744.5" y="803.8" font-size="15.8" text-anchor="middle">60</text>
<line x1="776.0" y1="782.0" x2="776.0" y2="785.0" stroke="#111" stroke-width="1.2"/>
<line x1="807.5" y1="782.0" x2="807.5" y2="787.5" stroke="#111" stroke-width="1.2"/>
<text x="807.5" y="803.8" font-size="15.8" text-anchor="middle">90</text>
<line x1="839.1" y1="782.0" x2="839.1" y2="785.0" stroke="#111" stroke-width="1.2"/>
<line x1="870.6" y1="782.0" x2="870.6" y2="787.5" stroke="#111" stroke-width="1.2"/>
<text x="870.6" y="803.8" font-size="15.8" text-anchor="middle">120</text>
<line x1="902.1" y1="782.0" x2="902.1" y2="785.0" stroke="#111" stroke-width="1.2"/>
<line x1="933.7" y1="782.0" x2="933.7" y2="787.5" stroke="#111" stroke-width="1.2"/>
<text x="933.7" y="803.8" font-size="15.8" text-anchor="middle">150</text>
<line x1="965.2" y1="782.0" x2="965.2" y2="785.0" stroke="#111" stroke-width="1.2"/>
<line x1="996.7" y1="782.0" x2="996.7" y2="787.5" stroke="#111" stroke-width="1.2"/>
<text x="996.7" y="803.8" font-size="15.8" text-anchor="middle">180</text>
<line x1="612.9" y1="487.8" x2="618.4" y2="487.8" stroke="#111" stroke-width="1.2"/>
<text x="608.9" y="493.3" font-size="15.8" text-anchor="end">2.0k</text>
<line x1="612.9" y1="559.5" x2="618.4" y2="559.5" stroke="#111" stroke-width="1.2"/>
<text x="608.9" y="565.0" font-size="15.8" text-anchor="end">1.0k</text>
<line x1="612.9" y1="631.2" x2="618.4" y2="631.2" stroke="#111" stroke-width="1.2"/>
<text x="608.9" y="636.7" font-size="15.8" text-anchor="end">0.0</text>
<line x1="612.9" y1="702.9" x2="618.4" y2="702.9" stroke="#111" stroke-width="1.2"/>
<text x="608.9" y="708.4" font-size="15.8" text-anchor="end">-1.0k</text>
<line x1="612.9" y1="774.6" x2="618.4" y2="774.6" stroke="#111" stroke-width="1.2"/>
<text x="608.9" y="780.1" font-size="15.8" text-anchor="end">-2.0k</text>
<text x="808" y="828.6" font-size="20.2" text-anchor="middle">Contact angle (°)</text>
<text transform="translate(564.5,629.5) rotate(-90)" font-size="20.6" text-anchor="middle">Capillary pressure (kPa)</text>
<text x="544" y="493" font-size="28.5" font-weight="bold">d</text>
<text x="696.2" y="502" font-size="17.4" style="fill:#0a5f82">Dense region</text>
<text x="681.2" y="650.8" font-size="17.4" style="fill:#8a2c31">Crack region</text>
<path d="M845 513 L897.2 513 L897.2 531.8 C912.5 538 912.5 562.6 897.2 568.8 L897.2 587.8 L845 587.8Z" fill="#b9d6f0"/>
<rect x="897.2" y="513" width="62.8" height="18.8" fill="#747577"/><rect x="897.2" y="568.8" width="62.8" height="19" fill="#747577"/>
<line x1="888" y1="568.4" x2="902" y2="568.4" stroke="#111" stroke-width="0.9"/><line x1="901.8" y1="568.4" x2="909.8" y2="556.4" stroke="#111" stroke-width="0.9"/>
<path d="M899.2 568.4 A4.5 4.5 0 0 1 905.2 563.4" fill="none" stroke="#111" stroke-width="0.8"/>
<text x="888.8" y="561" font-size="13.2" font-style="italic">θ</text>
<line x1="933.6" y1="550.8" x2="920" y2="550.8" stroke="#111" stroke-width="2"/><path d="M913.6 550.8 L923.2 546.2 L921 550.8 L923.2 555.4Z" fill="#111"/>
<text x="938.6" y="556.4" font-size="17" font-style="italic">P<tspan font-size="11.5" dy="3.5">c</tspan></text>
<text x="902.8" y="609" font-size="17.4" font-style="italic" text-anchor="middle">Hydrophobic</text>
<path d="M655.1 668.8 L707 668.8 L707 687.8 L718.4 687.8 C709.2 694 709.2 718 718.4 724.2 L707 724.2 L707 743.9 L655.1 743.9Z" fill="#b9d6f0"/>
<rect x="707" y="668.8" width="64.2" height="19" fill="#747577"/><rect x="707" y="724.2" width="64.2" height="19.7" fill="#747577"/>
<line x1="698.5" y1="724.6" x2="717" y2="724.6" stroke="#111" stroke-width="0.9"/><line x1="717" y1="724.6" x2="711.2" y2="713.4" stroke="#111" stroke-width="0.9"/>
<path d="M712.2 724.6 A4.8 4.8 0 0 1 714.8 720.4" fill="none" stroke="#111" stroke-width="0.8"/>
<text x="699.6" y="720.2" font-size="13.2" font-style="italic">θ</text>
<line x1="725" y1="706.9" x2="739" y2="706.9" stroke="#111" stroke-width="2"/><path d="M745.4 706.9 L735.8 702.3 L738 706.9 L735.8 711.5Z" fill="#111"/>
<text x="750" y="713.8" font-size="17" font-style="italic">P<tspan font-size="11.5" dy="3.5">c</tspan></text>
<text x="715.8" y="764.6" font-size="17.4" font-style="italic" text-anchor="middle">Hydrophilic</text>
<rect x="887.7" y="643.4" width="99.8" height="56.8" fill="#fff" stroke="#b8b8b8" stroke-width="0.9"/>
<path d="M887.7 643.4 L887.7 700.2 L987.5 700.2" fill="none" stroke="#333" stroke-width="1"/>
<polyline points="887.7,649.1 889.4,649.1 891.0,649.2 892.7,649.4 894.4,649.6 896.0,649.9 897.7,650.2 899.3,650.6 901.0,651.0 902.7,651.5 904.3,652.1 906.0,652.7 907.7,653.4 909.3,654.1 911.0,654.9 912.7,655.7 914.3,656.5 916.0,657.4 917.6,658.3 919.3,659.3 921.0,660.3 922.6,661.3 924.3,662.4 926.0,663.5 927.6,664.6 929.3,665.7 930.9,666.8 932.6,668.0 934.3,669.2 935.9,670.3 937.6,671.5 939.3,672.7 940.9,673.8 942.6,675.0 944.3,676.2 945.9,677.3 947.6,678.4 949.2,679.5 950.9,680.6 952.6,681.7 954.2,682.7 955.9,683.7 957.6,684.7 959.2,685.6 960.9,686.5 962.5,687.3 964.2,688.1 965.9,688.9 967.5,689.6 969.2,690.3 970.9,690.9 972.5,691.5 974.2,692.0 975.9,692.4 977.5,692.8 979.2,693.1 980.8,693.4 982.5,693.6 984.2,693.8 985.8,693.9 987.5,693.9" fill="none" stroke="#c0393b" stroke-width="2.4"/>
<text x="884.2" y="652.9" font-size="10.8" text-anchor="end">1.0</text>
<text x="884.2" y="675.4" font-size="10.8" text-anchor="end">0.0</text>
<text x="884.2" y="697.7" font-size="10.8" text-anchor="end">-1.0</text>
<line x1="887.7" y1="700.2" x2="887.7" y2="702.7" stroke="#333" stroke-width="0.8"/>
<text x="887.7" y="710.8" font-size="10.8" text-anchor="middle">0</text>
<line x1="912.7" y1="700.2" x2="912.7" y2="702.7" stroke="#333" stroke-width="0.8"/>
<text x="912.7" y="710.8" font-size="10.8" text-anchor="middle">45</text>
<line x1="937.6" y1="700.2" x2="937.6" y2="702.7" stroke="#333" stroke-width="0.8"/>
<text x="937.6" y="710.8" font-size="10.8" text-anchor="middle">90</text>
<line x1="962.5" y1="700.2" x2="962.5" y2="702.7" stroke="#333" stroke-width="0.8"/>
<text x="962.5" y="710.8" font-size="10.8" text-anchor="middle">135</text>
<line x1="987.5" y1="700.2" x2="987.5" y2="702.7" stroke="#333" stroke-width="0.8"/>
<text x="987.5" y="710.8" font-size="10.8" text-anchor="middle">180</text>
<line x1="926.8" y1="631.5" x2="918.8" y2="649.8" stroke="#111" stroke-width="0.8" stroke-dasharray="2 1.3"/><path d="M916.6 654.8 L920.7 650.6 L918.3 651.0 L916.9 648.9Z" fill="#111"/>
<!-- panel e -->
<rect x="1086.5" y="479.6" width="191.2" height="302.6" fill="#fff" stroke="#111" stroke-width="1.3"/>
<rect x="1114.8" y="497.3" width="38.6" height="284.9" fill="#07608a" stroke="#0a1a22" stroke-width="1.1"/>
<rect x="1112" y="688.6" width="44" height="5.4" fill="#fff"/>
<rect x="1210.4" y="701.9" width="38.6" height="80.3" fill="#d03238" stroke="#1a0a0a" stroke-width="1.1"/>
<rect x="1084.5" y="688.4" width="4" height="5.2" fill="#fff"/>
<line x1="1081.1" y1="690.4" x2="1091.9" y2="686.6" stroke="#111" stroke-width="1.1"/>
<line x1="1081.1" y1="696.0" x2="1091.9" y2="692.2" stroke="#111" stroke-width="1.1"/>
<rect x="1275.7" y="688.4" width="4" height="5.2" fill="#fff"/>
<line x1="1272.3" y1="690.4" x2="1283.1000000000001" y2="686.6" stroke="#111" stroke-width="1.1"/>
<line x1="1272.3" y1="696.0" x2="1283.1000000000001" y2="692.2" stroke="#111" stroke-width="1.1"/>
<line x1="1081.0" y1="515.8" x2="1086.5" y2="515.8" stroke="#111" stroke-width="1.2"/>
<text x="1077.0" y="521.2" font-size="15.4" text-anchor="end">180k</text>
<line x1="1081.0" y1="569.8" x2="1086.5" y2="569.8" stroke="#111" stroke-width="1.2"/>
<text x="1077.0" y="575.2" font-size="15.4" text-anchor="end">165k</text>
<line x1="1081.0" y1="624" x2="1086.5" y2="624" stroke="#111" stroke-width="1.2"/>
<text x="1077.0" y="629.4" font-size="15.4" text-anchor="end">150k</text>
<line x1="1081.0" y1="678.4" x2="1086.5" y2="678.4" stroke="#111" stroke-width="1.2"/>
<text x="1077.0" y="683.8" font-size="15.4" text-anchor="end">135k</text>
<line x1="1081.0" y1="702.5" x2="1086.5" y2="702.5" stroke="#111" stroke-width="1.2"/>
<text x="1077.0" y="707.9" font-size="15.4" text-anchor="end">90</text>
<line x1="1081.0" y1="742.8" x2="1086.5" y2="742.8" stroke="#111" stroke-width="1.2"/>
<text x="1077.0" y="748.2" font-size="15.4" text-anchor="end">45</text>
<line x1="1081.0" y1="782.2" x2="1086.5" y2="782.2" stroke="#111" stroke-width="1.2"/>
<text x="1077.0" y="787.6" font-size="15.4" text-anchor="end">0</text>
<line x1="1134.2" y1="782.2" x2="1134.2" y2="787.7" stroke="#111" stroke-width="1.2"/>
<line x1="1229.4" y1="782.2" x2="1229.4" y2="787.7" stroke="#111" stroke-width="1.2"/>
<text transform="translate(1128.5,815) rotate(-20.5)" font-size="17.6" text-anchor="middle">Dense region</text>
<text transform="translate(1217,815) rotate(-20.5)" font-size="17.6" text-anchor="middle">Crack region</text>
<text transform="translate(1030.5,633) rotate(-90)" font-size="19.4" text-anchor="middle">Penetration depth (nm)</text>
<text x="1011.6" y="491.8" font-size="28.5" font-weight="bold">e</text>
<text x="1225.3" y="515.9" font-size="18.2" text-anchor="middle" style="fill:#1a6a8c">0.185 mm</text>
<text x="1225.8" y="680.4" font-size="18.2" text-anchor="middle" style="fill:#c0393b">91.2 nm</text>
<text x="1223.8" y="575" font-size="17.3" text-anchor="middle">Three</text>
<text x="1223.8" y="596.2" font-size="17.3" text-anchor="middle">orders of</text>
<text x="1223.8" y="617.2" font-size="17.3" text-anchor="middle">magnitude</text>
<line x1="1223.5" y1="523.4" x2="1223.5" y2="558" stroke="#111" stroke-width="0.9" stroke-dasharray="3.4 2.4"/>
<line x1="1223.5" y1="624.5" x2="1223.5" y2="657" stroke="#111" stroke-width="0.9" stroke-dasharray="3.4 2.4"/>
<path d="M1223.5 662 L1220.6 654.8 L1223.5 656.6 L1226.4 654.8Z" fill="#111"/>
<line x1="1159.0" y1="522.3" x2="1173.7" y2="516.5" stroke="#111" stroke-width="1.7"/><path d="M1178.9 514.5 L1170.1 514.1 L1173.5 516.6 L1172.8 520.8Z" fill="#111"/>
<line x1="1232.0" y1="701.9" x2="1223.2" y2="690.7" stroke="#111" stroke-width="1.7"/><path d="M1219.7 686.3 L1221.8 694.8 L1223.3 690.8 L1227.5 690.4Z" fill="#111"/>
<!-- panel f -->
<rect x="88.6" y="873.8" width="5.4" height="158" fill="url(#cbF1)"/>
<rect x="592.6" y="875.4" width="4.8" height="155.8" fill="url(#cbF2)"/>
<text x="81.2" y="883.6" font-size="15" text-anchor="end">2.8</text>
<text x="81.2" y="962.8" font-size="15" text-anchor="end">0</text>
<text x="81.2" y="1033.6" font-size="15" text-anchor="end">−2.8</text>
<text x="585.4" y="884.8" font-size="15" text-anchor="end">9.4</text>
<text x="585.4" y="974.2" font-size="15" text-anchor="end">0</text>
<text x="585.4" y="1031.8" font-size="15" text-anchor="end">−6.9</text>
<text x="17.4" y="893.5" font-size="28.5" font-weight="bold">f</text>
<line x1="107.2" y1="957.4" x2="234" y2="880.2" stroke="#3c3c3c" stroke-width="0.9"/>
<line x1="234" y1="880.2" x2="502.5" y2="917.9" stroke="#3c3c3c" stroke-width="0.9"/>
<line x1="234" y1="880.2" x2="234.6" y2="906" stroke="#3c3c3c" stroke-width="0.9"/>
<line x1="502.5" y1="917.9" x2="500.8" y2="949.7" stroke="#3c3c3c" stroke-width="0.9"/>
<line x1="110.4" y1="990.5" x2="233.5" y2="913.5" stroke="#3c3c3c" stroke-width="0.9"/>
<line x1="207.4" y1="1010.4" x2="322" y2="932" stroke="#3c3c3c" stroke-width="0.9"/>
<line x1="315.6" y1="1032.8" x2="414" y2="950" stroke="#3c3c3c" stroke-width="0.9"/>
<g transform="matrix(0.9774 0.2116 0.8492 -0.5281 111 981.5)"><path d="M0.2 -0.2 L0.4 2.6 L0.4 5.5 L0.6 8.3 L0.4 11.7 L0.6 14.4 L-0.7 18.9 L-0.1 21.2 L0.6 23.4 L0.2 26.9 L0.6 29.5 L-0.6 33.8 L-0.0 36.3 L-0.4 39.7 L0.1 42.2 L0.1 45.1 L-0.7 49.1 L-0.4 51.8 L-0.3 54.7 L0.6 56.6 L0.4 59.9 L-0.5 63.9 L0.4 65.9 L-0.5 70.0 L0.2 72.2 L-0.5 76.1 L-0.7 79.3 L0.5 80.9 L-0.4 85.0 L-0.4 88.0 L0.7 89.7 L0.5 92.9 L-0.3 96.9 L0.7 98.8 L0.1 102.5 L0.3 105.3 L-0.4 109.1 L0.6 110.9 L0.3 114.4 L0.7 116.9 L0.6 120.0 L-0.3 124.1 L-0.2 127.0 L-0.5 130.3 L-0.5 133.4 L-0.6 136.5 L-0.3 139.1 L0.2 141.7 L-0.8 145.8 L3.1 144.8 L5.4 145.7 L8.1 146.1 L11.8 145.3 L14.1 146.3 L16.6 146.9 L19.7 146.8 L22.9 146.7 L24.6 148.2 L29.0 146.7 L30.2 148.9 L34.3 147.7 L37.3 147.8 L38.7 149.7 L42.8 148.5 L44.9 149.6 L48.1 149.4 L49.9 150.8 L52.8 151.0 L55.9 151.1 L60.0 149.8 L61.5 151.6 L65.3 150.8 L68.4 150.7 L71.3 151.0 L73.1 152.4 L75.9 152.7 L79.0 152.6 L82.3 152.4 L84.0 154.0 L87.9 153.0 L90.8 153.2 L93.7 153.4 L95.1 155.3 L99.5 153.7 L100.9 155.7 L104.1 155.5 L107.4 155.2 L110.7 154.9 L112.6 156.3 L116.4 155.5 L118.6 156.5 L121.0 157.2 L123.8 157.5 L126.4 158.0 L129.1 158.5 L132.0 158.7 L135.7 157.9 L139.1 157.6 L140.5 159.5 L143.1 160.0 L147.5 158.4 L149.6 159.6 L152.2 160.1 L154.7 160.7 L158.1 160.3 L161.4 160.1 L163.6 161.1 L166.3 161.5 L168.5 162.5 L172.8 161.1 L174.1 163.1 L177.7 162.5 L181.1 162.1 L182.7 163.7 L186.6 162.8 L189.8 162.7 L192.1 163.6 L195.2 163.5 L196.8 165.2 L200.2 164.8 L202.5 165.6 L206.5 164.6 L208.4 165.9 L211.5 165.9 L215.3 165.1 L217.8 165.7 L220.9 165.7 L222.8 167.0 L225.7 167.2 L228.9 167.0 L231.3 167.8 L233.8 168.4 L236.8 168.5 L239.2 169.3 L242.4 169.1 L246.3 168.2 L249.0 168.5 L251.3 169.5 L252.6 165.8 L253.9 162.1 L255.1 158.6 L256.9 154.3 L259.1 149.5 L260.8 145.4 L261.6 142.3 L263.7 137.6 L265.2 133.7 L266.6 129.9 L268.1 126.0 L269.8 121.9 L270.7 118.6 L272.7 114.1 L273.6 110.9 L275.5 106.6 L277.4 102.2 L278.8 98.3 L279.8 95.1 L282.2 90.0 L283.3 86.6 L284.8 82.7 L285.4 79.8 L287.8 74.9 L288.8 71.5 L291.0 66.8 L292.2 63.2 L294.3 58.7 L295.5 55.0 L297.3 50.8 L298.1 47.6 L300.1 43.2 L301.8 39.1 L303.4 35.0 L304.2 31.8 L306.5 27.0 L308.1 23.1 L309.3 19.4 L311.3 15.0 L312.8 11.1 L313.6 7.9 L315.2 3.9 L315.9 0.8 L314.4 -0.9 L311.6 -1.1 L307.6 0.1 L305.0 -0.5 L302.1 -0.6 L299.1 -0.6 L294.8 0.8 L293.2 -0.7 L289.7 -0.2 L286.9 -0.4 L283.3 0.2 L280.8 -0.3 L278.1 -0.7 L274.7 -0.3 L271.9 -0.6 L267.4 1.2 L264.7 0.9 L262.3 0.1 L259.7 -0.4 L255.7 0.7 L253.7 -0.5 L250.6 -0.3 L246.3 1.2 L244.2 0.1 L240.7 0.7 L237.3 1.1 L234.4 0.9 L231.8 0.5 L228.5 0.8 L225.5 0.8 L222.2 1.2 L220.1 0.1 L216.9 0.3 L214.4 -0.3 L211.3 -0.2 L207.5 0.7 L206.0 -1.0 L201.0 1.3 L198.8 0.2 L195.5 0.6 L192.8 0.2 L189.2 1.0 L187.7 -0.8 L183.7 0.3 L179.9 1.2 L178.2 -0.3 L174.0 1.0 L172.0 -0.1 L168.5 0.4 L166.1 -0.2 L163.9 -1.2 L160.5 -0.8 L156.6 0.2 L154.5 -0.8 L151.1 -0.4 L147.5 0.3 L144.0 0.9 L142.0 -0.2 L138.9 -0.2 L136.7 -1.2 L133.7 -1.2 L129.9 -0.3 L126.3 0.4 L124.5 -1.0 L119.5 1.3 L116.8 1.0 L114.7 -0.2 L111.8 -0.3 L107.8 0.9 L105.8 -0.3 L103.4 -1.0 L99.3 0.3 L96.4 0.2 L92.9 0.7 L90.0 0.5 L88.5 -1.2 L84.2 0.3 L82.4 -1.2 L79.3 -1.0 L75.6 -0.2 L71.9 0.6 L70.4 -1.2 L66.3 0.0 L63.1 0.2 L59.9 0.5 L58.4 -1.2 L54.3 0.0 L50.8 0.5 L48.2 0.1 L44.4 1.0 L42.5 -0.3 L39.1 0.1 L35.7 0.5 L33.8 -0.7 L30.9 -0.8 L26.1 1.2 L24.2 -0.1 L20.6 0.6 L19.1 -1.1 L15.7 -0.7 L11.5 0.6 L8.5 0.6 L5.3 0.9 L4.1 -1.2Z" fill="#48a8d0" filter="url(#srf1)"/></g>
<g clip-path="url(#sc1)" opacity="0.9"><ellipse cx="293" cy="992" rx="17.1" ry="10.8" fill="url(#pkY)" transform="rotate(-20 293 992)"/><ellipse cx="172.5" cy="967.4" rx="7.8" ry="5.0" fill="url(#pkY)" transform="rotate(-10 172.5 967.4)"/><ellipse cx="398.5" cy="1023.6" rx="9.3" ry="6.2" fill="url(#pkY)" transform="rotate(-10 398.5 1023.6)"/><ellipse cx="276" cy="951" rx="24.8" ry="12.4" fill="url(#pkG)" transform="rotate(-25 276 951)"/><ellipse cx="316.7" cy="939.6" rx="17.1" ry="10.8" fill="url(#pkP)" transform="rotate(-10 316.7 939.6)"/><ellipse cx="357.6" cy="968.5" rx="18.6" ry="10.8" fill="url(#pkP)" transform="rotate(-20 357.6 968.5)"/><ellipse cx="321" cy="1011.6" rx="14.0" ry="12.4" fill="url(#pkP)" transform="rotate(-30 321 1011.6)"/><ellipse cx="236" cy="930" rx="29.9" ry="11.5" fill="url(#pkB)" transform="rotate(-32 236 930)"/><ellipse cx="300" cy="965" rx="39.1" ry="13.8" fill="url(#pkB)" transform="rotate(-32 300 965)"/><ellipse cx="410" cy="985" rx="34.5" ry="13.8" fill="url(#pkB)" transform="rotate(-35 410 985)"/><ellipse cx="352" cy="1024" rx="21.7" ry="9.3" fill="url(#pkG)" transform="rotate(-10 352 1024)"/><ellipse cx="447" cy="940" rx="21.7" ry="9.3" fill="url(#pkG)" transform="rotate(-10 447 940)"/><ellipse cx="200" cy="985" rx="34.5" ry="11.5" fill="url(#pkC)" transform="rotate(-30 200 985)"/><ellipse cx="345" cy="995" rx="29.9" ry="11.5" fill="url(#pkC)" transform="rotate(-30 345 995)"/><ellipse cx="420" cy="950" rx="29.9" ry="10.3" fill="url(#pkC)" transform="rotate(-30 420 950)"/></g>
<g transform="matrix(0.9774 0.2116 0.8492 -0.5281 111 981.5)" style="mix-blend-mode:overlay"><path d="M0.2 -0.2 L0.4 2.6 L0.4 5.5 L0.6 8.3 L0.4 11.7 L0.6 14.4 L-0.7 18.9 L-0.1 21.2 L0.6 23.4 L0.2 26.9 L0.6 29.5 L-0.6 33.8 L-0.0 36.3 L-0.4 39.7 L0.1 42.2 L0.1 45.1 L-0.7 49.1 L-0.4 51.8 L-0.3 54.7 L0.6 56.6 L0.4 59.9 L-0.5 63.9 L0.4 65.9 L-0.5 70.0 L0.2 72.2 L-0.5 76.1 L-0.7 79.3 L0.5 80.9 L-0.4 85.0 L-0.4 88.0 L0.7 89.7 L0.5 92.9 L-0.3 96.9 L0.7 98.8 L0.1 102.5 L0.3 105.3 L-0.4 109.1 L0.6 110.9 L0.3 114.4 L0.7 116.9 L0.6 120.0 L-0.3 124.1 L-0.2 127.0 L-0.5 130.3 L-0.5 133.4 L-0.6 136.5 L-0.3 139.1 L0.2 141.7 L-0.8 145.8 L3.1 144.8 L5.4 145.7 L8.1 146.1 L11.8 145.3 L14.1 146.3 L16.6 146.9 L19.7 146.8 L22.9 146.7 L24.6 148.2 L29.0 146.7 L30.2 148.9 L34.3 147.7 L37.3 147.8 L38.7 149.7 L42.8 148.5 L44.9 149.6 L48.1 149.4 L49.9 150.8 L52.8 151.0 L55.9 151.1 L60.0 149.8 L61.5 151.6 L65.3 150.8 L68.4 150.7 L71.3 151.0 L73.1 152.4 L75.9 152.7 L79.0 152.6 L82.3 152.4 L84.0 154.0 L87.9 153.0 L90.8 153.2 L93.7 153.4 L95.1 155.3 L99.5 153.7 L100.9 155.7 L104.1 155.5 L107.4 155.2 L110.7 154.9 L112.6 156.3 L116.4 155.5 L118.6 156.5 L121.0 157.2 L123.8 157.5 L126.4 158.0 L129.1 158.5 L132.0 158.7 L135.7 157.9 L139.1 157.6 L140.5 159.5 L143.1 160.0 L147.5 158.4 L149.6 159.6 L152.2 160.1 L154.7 160.7 L158.1 160.3 L161.4 160.1 L163.6 161.1 L166.3 161.5 L168.5 162.5 L172.8 161.1 L174.1 163.1 L177.7 162.5 L181.1 162.1 L182.7 163.7 L186.6 162.8 L189.8 162.7 L192.1 163.6 L195.2 163.5 L196.8 165.2 L200.2 164.8 L202.5 165.6 L206.5 164.6 L208.4 165.9 L211.5 165.9 L215.3 165.1 L217.8 165.7 L220.9 165.7 L222.8 167.0 L225.7 167.2 L228.9 167.0 L231.3 167.8 L233.8 168.4 L236.8 168.5 L239.2 169.3 L242.4 169.1 L246.3 168.2 L249.0 168.5 L251.3 169.5 L252.6 165.8 L253.9 162.1 L255.1 158.6 L256.9 154.3 L259.1 149.5 L260.8 145.4 L261.6 142.3 L263.7 137.6 L265.2 133.7 L266.6 129.9 L268.1 126.0 L269.8 121.9 L270.7 118.6 L272.7 114.1 L273.6 110.9 L275.5 106.6 L277.4 102.2 L278.8 98.3 L279.8 95.1 L282.2 90.0 L283.3 86.6 L284.8 82.7 L285.4 79.8 L287.8 74.9 L288.8 71.5 L291.0 66.8 L292.2 63.2 L294.3 58.7 L295.5 55.0 L297.3 50.8 L298.1 47.6 L300.1 43.2 L301.8 39.1 L303.4 35.0 L304.2 31.8 L306.5 27.0 L308.1 23.1 L309.3 19.4 L311.3 15.0 L312.8 11.1 L313.6 7.9 L315.2 3.9 L315.9 0.8 L314.4 -0.9 L311.6 -1.1 L307.6 0.1 L305.0 -0.5 L302.1 -0.6 L299.1 -0.6 L294.8 0.8 L293.2 -0.7 L289.7 -0.2 L286.9 -0.4 L283.3 0.2 L280.8 -0.3 L278.1 -0.7 L274.7 -0.3 L271.9 -0.6 L267.4 1.2 L264.7 0.9 L262.3 0.1 L259.7 -0.4 L255.7 0.7 L253.7 -0.5 L250.6 -0.3 L246.3 1.2 L244.2 0.1 L240.7 0.7 L237.3 1.1 L234.4 0.9 L231.8 0.5 L228.5 0.8 L225.5 0.8 L222.2 1.2 L220.1 0.1 L216.9 0.3 L214.4 -0.3 L211.3 -0.2 L207.5 0.7 L206.0 -1.0 L201.0 1.3 L198.8 0.2 L195.5 0.6 L192.8 0.2 L189.2 1.0 L187.7 -0.8 L183.7 0.3 L179.9 1.2 L178.2 -0.3 L174.0 1.0 L172.0 -0.1 L168.5 0.4 L166.1 -0.2 L163.9 -1.2 L160.5 -0.8 L156.6 0.2 L154.5 -0.8 L151.1 -0.4 L147.5 0.3 L144.0 0.9 L142.0 -0.2 L138.9 -0.2 L136.7 -1.2 L133.7 -1.2 L129.9 -0.3 L126.3 0.4 L124.5 -1.0 L119.5 1.3 L116.8 1.0 L114.7 -0.2 L111.8 -0.3 L107.8 0.9 L105.8 -0.3 L103.4 -1.0 L99.3 0.3 L96.4 0.2 L92.9 0.7 L90.0 0.5 L88.5 -1.2 L84.2 0.3 L82.4 -1.2 L79.3 -1.0 L75.6 -0.2 L71.9 0.6 L70.4 -1.2 L66.3 0.0 L63.1 0.2 L59.9 0.5 L58.4 -1.2 L54.3 0.0 L50.8 0.5 L48.2 0.1 L44.4 1.0 L42.5 -0.3 L39.1 0.1 L35.7 0.5 L33.8 -0.7 L30.9 -0.8 L26.1 1.2 L24.2 -0.1 L20.6 0.6 L19.1 -1.1 L15.7 -0.7 L11.5 0.6 L8.5 0.6 L5.3 0.9 L4.1 -1.2Z" fill="#808080" filter="url(#srf1L)"/></g>
<line x1="110.4" y1="990.5" x2="431" y2="1056.8" stroke="#3c3c3c" stroke-width="1.0"/>
<path d="M439.5 1058.6 L428.4 1061.6 L430 1056.6 L429.6 1051.4Z" fill="#3a4658"/>
<line x1="110.4" y1="990.5" x2="107" y2="951" stroke="#3c3c3c" stroke-width="1.0"/>
<path d="M106 941 L110.6 952.4 L107 950.8 L102.8 953Z" fill="#3a4658"/>
<line x1="421.5" y1="1054.6" x2="500.8" y2="949.7" stroke="#3c3c3c" stroke-width="0.9"/>
<line x1="207.4" y1="1010.4" x2="214.4" y2="1005.6" stroke="#3c3c3c" stroke-width="0.9"/>
<line x1="315.6" y1="1032.8" x2="321.6" y2="1027.6" stroke="#3c3c3c" stroke-width="0.9"/>
<line x1="455.5" y1="1009" x2="461.5" y2="1010" stroke="#3c3c3c" stroke-width="0.9"/>
<line x1="500.8" y1="949.7" x2="506" y2="950.5" stroke="#3c3c3c" stroke-width="0.9"/>
<text x="110.2" y="936.6" font-size="16.5">Z</text>
<text x="111" y="1008.6" font-size="16.5" text-anchor="middle">0</text>
<text x="203.8" y="1029" font-size="16.5" text-anchor="middle">50</text>
<text x="312.4" y="1050.6" font-size="16.5" text-anchor="middle">100</text>
<text x="413.2" y="1075.8" font-size="17.2" text-anchor="middle">144.7</text>
<text x="443.2" y="1070.6" font-size="17.8">X (μm)</text>
<text x="506.8" y="923.8" font-size="16.5">9.4</text>
<text x="505.3" y="964.2" font-size="16.5">108.5</text>
<text x="469" y="1011.4" font-size="16.5">50</text>
<text transform="translate(181.8,1048.6) rotate(11.8)" font-size="19.3">Dense region</text>
<text transform="translate(322,889.4) rotate(6)" font-size="20.6">Sa: 0.291 μm</text>
<line x1="612" y1="955.4" x2="738.1" y2="881.2" stroke="#3c3c3c" stroke-width="0.9"/>
<line x1="738.1" y1="881.2" x2="1002.3" y2="919.6" stroke="#3c3c3c" stroke-width="0.9"/>
<line x1="738.1" y1="881.2" x2="738.6" y2="906" stroke="#3c3c3c" stroke-width="0.9"/>
<line x1="1002.3" y1="919.6" x2="1001" y2="950.4" stroke="#3c3c3c" stroke-width="0.9"/>
<line x1="616.9" y1="990.8" x2="740" y2="914" stroke="#3c3c3c" stroke-width="0.9"/>
<line x1="711" y1="1010.6" x2="826" y2="936" stroke="#3c3c3c" stroke-width="0.9"/>
<line x1="820" y1="1033" x2="917" y2="954" stroke="#3c3c3c" stroke-width="0.9"/>
<g transform="matrix(0.9780 0.2084 0.8547 -0.5191 616.5 978)"><path d="M-0.7 0.8 L0.6 1.9 L0.4 4.7 L1.7 6.0 L2.4 7.8 L3.9 8.7 L2.2 13.3 L4.7 13.1 L2.4 18.3 L2.3 21.0 L0.6 25.6 L-0.3 29.2 L0.1 31.4 L-0.7 34.9 L-1.7 38.7 L-1.1 40.7 L-3.0 45.5 L-6.7 52.4 L-7.8 56.2 L-8.9 60.2 L-8.7 62.5 L-9.7 66.2 L-10.9 70.3 L-12.0 74.1 L-7.6 71.7 L-7.0 73.7 L-4.6 73.5 L-2.5 73.8 L-1.6 75.4 L-1.4 77.8 L0.5 78.2 L-1.5 83.1 L-1.8 86.1 L-0.6 87.3 L-3.7 93.6 L-4.1 96.6 L-2.8 97.8 L-6.3 104.4 L-3.7 104.0 L-4.2 107.3 L-4.9 110.7 L-4.9 113.3 L-2.3 112.9 L-1.0 114.1 L-3.2 119.2 L-1.4 119.8 L-0.8 121.8 L-1.2 124.9 L-2.9 129.4 L-5.5 135.0 L-6.0 138.2 L-6.3 141.2 L-8.4 146.2 L-5.8 145.8 L-1.4 143.4 L-1.2 145.9 L-1.0 148.6 L-2.5 153.4 L1.8 151.5 L5.7 150.0 L9.5 148.8 L11.6 149.3 L11.0 153.0 L13.7 153.0 L9.6 160.7 L9.7 163.6 L11.7 164.4 L14.5 164.1 L17.8 163.4 L23.5 159.9 L29.7 155.8 L30.1 158.4 L35.3 155.4 L38.7 154.6 L41.9 153.9 L47.4 150.6 L48.4 152.5 L51.3 152.1 L54.7 151.3 L55.4 153.6 L56.0 155.9 L56.8 158.0 L54.5 163.6 L52.2 169.2 L49.6 175.2 L55.2 171.8 L62.1 166.9 L70.4 160.5 L75.3 157.9 L80.4 155.1 L80.4 158.1 L81.0 160.4 L85.2 158.6 L85.3 161.6 L89.5 159.7 L91.9 160.1 L96.5 157.8 L98.4 158.7 L101.9 157.7 L103.6 158.7 L107.6 157.1 L109.2 158.4 L113.5 156.4 L114.9 157.9 L115.4 160.3 L117.6 160.9 L119.6 161.6 L122.3 161.4 L121.6 165.2 L125.2 164.2 L126.9 165.3 L127.1 168.0 L132.2 165.3 L133.2 167.1 L136.5 166.3 L141.0 164.2 L141.6 166.5 L144.8 165.9 L143.2 170.8 L142.4 174.7 L144.3 175.5 L141.5 181.7 L143.4 182.6 L139.9 189.6 L141.3 191.0 L149.0 185.2 L155.9 180.3 L162.9 175.4 L169.8 170.5 L178.2 163.9 L180.7 164.0 L184.1 163.2 L184.1 166.2 L188.3 164.4 L189.7 165.8 L191.7 166.6 L194.4 166.5 L197.7 165.7 L198.9 167.3 L201.1 167.8 L202.1 169.7 L206.4 167.8 L207.4 169.7 L209.5 170.3 L209.8 173.0 L213.3 172.0 L214.3 173.9 L217.2 173.6 L220.1 173.3 L223.9 172.0 L225.9 172.7 L227.9 173.4 L230.7 173.2 L234.2 172.2 L236.4 172.8 L242.1 169.2 L243.3 170.9 L245.8 166.1 L244.5 165.7 L247.9 159.9 L251.2 154.2 L252.1 151.3 L253.5 147.9 L255.6 143.5 L256.2 141.0 L258.2 136.8 L259.7 133.2 L261.7 129.0 L262.7 126.0 L265.3 121.1 L263.4 121.5 L264.6 118.2 L265.7 115.0 L266.5 112.3 L268.3 108.3 L269.7 104.8 L272.3 99.9 L272.4 97.9 L277.6 90.1 L277.2 88.6 L281.0 82.5 L281.4 80.1 L282.6 76.9 L282.9 74.6 L285.6 69.6 L283.6 70.1 L286.7 64.6 L286.6 62.8 L289.5 57.6 L291.4 53.5 L291.3 51.8 L293.6 47.3 L295.1 43.6 L298.1 38.3 L299.6 34.8 L302.5 29.6 L305.9 23.8 L304.5 23.5 L304.9 21.1 L306.1 17.9 L306.0 16.2 L308.3 11.6 L309.2 8.7 L308.2 8.0 L309.7 4.4 L312.3 -0.5 L310.4 -1.3 L306.7 -0.1 L303.1 1.0 L301.5 -0.2 L295.1 4.1 L291.5 5.3 L289.5 4.6 L284.0 7.9 L278.5 11.1 L275.9 11.2 L273.6 10.8 L269.3 12.8 L266.6 12.8 L264.4 12.3 L263.4 10.5 L265.2 5.4 L263.5 4.4 L264.4 0.4 L261.3 0.8 L261.7 -2.6 L261.0 -4.8 L262.0 -8.9 L260.6 -10.3 L260.1 -12.7 L258.5 -13.9 L255.0 -12.9 L250.1 -10.3 L245.3 -7.9 L243.2 -8.4 L236.1 -3.2 L232.6 -2.3 L228.3 -0.3 L225.0 0.5 L220.1 3.0 L217.5 3.0 L213.6 4.4 L211.8 3.5 L210.0 2.6 L206.2 3.9 L204.4 3.0 L200.1 4.9 L197.4 5.1 L196.9 2.6 L194.7 2.1 L193.0 1.1 L190.5 1.0 L189.3 -0.7 L187.7 -1.9 L186.4 -3.4 L182.7 -2.2 L181.3 -3.6 L180.5 -5.7 L176.7 -4.3 L174.1 -4.3 L172.1 -5.0 L168.6 -4.0 L167.5 -5.8 L164.3 -5.1 L159.4 -2.4 L155.3 -0.8 L151.6 0.5 L148.5 1.0 L144.4 2.7 L141.7 2.8 L138.4 3.6 L133.5 6.2 L129.0 8.4 L126.9 7.8 L121.0 11.5 L117.7 12.3 L114.5 12.9 L111.7 13.2 L108.2 14.2 L106.9 12.6 L104.7 12.1 L104.5 9.3 L102.6 8.6 L102.3 5.8 L100.3 5.2 L99.2 3.4 L97.1 2.8 L95.0 2.2 L94.2 0.1 L91.7 -0.0 L90.5 -1.7 L87.7 -1.4 L85.5 -1.8 L82.0 -0.8 L81.4 -3.2 L77.9 -2.2 L74.9 -1.7 L72.3 -1.8 L70.2 -2.4 L67.9 -2.8 L66.5 -4.1 L62.5 -2.6 L59.0 -1.5 L58.1 -3.5 L54.5 -2.3 L49.8 -0.1 L46.9 0.3 L44.0 0.6 L41.6 0.4 L39.8 -0.6 L36.8 -0.1 L32.4 1.9 L27.9 4.1 L25.3 4.1 L22.1 4.7 L19.4 4.8 L16.1 5.5 L15.8 2.9 L14.5 1.4 L12.3 1.0 L8.3 2.5 L7.4 0.6 L3.9 1.5 L3.1 -0.5Z" fill="#48a8d0" filter="url(#srf2)"/></g>
<g clip-path="url(#sc2)" opacity="0.9"><ellipse cx="687" cy="956" rx="28.9" ry="11.9" fill="url(#pkG)" transform="rotate(-28 687 956)"/><ellipse cx="723" cy="906" rx="22.1" ry="11.9" fill="url(#pkO)" transform="rotate(-10 723 906)"/><ellipse cx="748" cy="902" rx="18.7" ry="10.2" fill="url(#pkO)" transform="rotate(-10 748 902)"/><ellipse cx="770" cy="898" rx="13.6" ry="10.2" fill="url(#pkG)" transform="rotate(0 770 898)"/><ellipse cx="770" cy="923" rx="15.3" ry="8.5" fill="url(#pkO)" transform="rotate(-10 770 923)"/><ellipse cx="818" cy="901" rx="17.0" ry="13.6" fill="url(#pkO)" transform="rotate(0 818 901)"/><ellipse cx="812" cy="943" rx="20.4" ry="10.2" fill="url(#pkO)" transform="rotate(-15 812 943)"/><ellipse cx="748" cy="962" rx="18.7" ry="10.2" fill="url(#pkO)" transform="rotate(-15 748 962)"/><ellipse cx="770" cy="954" rx="17.0" ry="10.2" fill="url(#pkG)" transform="rotate(-15 770 954)"/><ellipse cx="825" cy="979" rx="28.9" ry="13.6" fill="url(#pkO)" transform="rotate(-20 825 979)"/><ellipse cx="918" cy="915" rx="20.4" ry="13.6" fill="url(#pkO)" transform="rotate(-10 918 915)"/><ellipse cx="935" cy="956" rx="20.4" ry="11.9" fill="url(#pkO)" transform="rotate(-20 935 956)"/><ellipse cx="895" cy="1008" rx="25.5" ry="13.6" fill="url(#pkO)" transform="rotate(-35 895 1008)"/><ellipse cx="879" cy="918" rx="23.8" ry="11.9" fill="url(#pkG)" transform="rotate(-10 879 918)"/><ellipse cx="714" cy="956" rx="26" ry="12" fill="url(#pkB)" transform="rotate(-30 714 956)"/><ellipse cx="790" cy="988" rx="31.2" ry="14.4" fill="url(#pkB)" transform="rotate(-25 790 988)"/><ellipse cx="864" cy="1030" rx="30.6" ry="15.3" fill="url(#pkP)" transform="rotate(-20 864 1030)"/><ellipse cx="948" cy="938" rx="26.4" ry="12.0" fill="url(#pkB)" transform="rotate(-30 948 938)"/><ellipse cx="778" cy="912" rx="16.8" ry="8.4" fill="url(#pkB)" transform="rotate(-20 778 912)"/><ellipse cx="660" cy="975" rx="19.2" ry="7.2" fill="url(#pkC)" transform="rotate(-25 660 975)"/><ellipse cx="850" cy="990" rx="19.2" ry="8.4" fill="url(#pkC)" transform="rotate(-25 850 990)"/></g>
<g transform="matrix(0.9780 0.2084 0.8547 -0.5191 616.5 978)" style="mix-blend-mode:overlay"><path d="M-0.7 0.8 L0.6 1.9 L0.4 4.7 L1.7 6.0 L2.4 7.8 L3.9 8.7 L2.2 13.3 L4.7 13.1 L2.4 18.3 L2.3 21.0 L0.6 25.6 L-0.3 29.2 L0.1 31.4 L-0.7 34.9 L-1.7 38.7 L-1.1 40.7 L-3.0 45.5 L-6.7 52.4 L-7.8 56.2 L-8.9 60.2 L-8.7 62.5 L-9.7 66.2 L-10.9 70.3 L-12.0 74.1 L-7.6 71.7 L-7.0 73.7 L-4.6 73.5 L-2.5 73.8 L-1.6 75.4 L-1.4 77.8 L0.5 78.2 L-1.5 83.1 L-1.8 86.1 L-0.6 87.3 L-3.7 93.6 L-4.1 96.6 L-2.8 97.8 L-6.3 104.4 L-3.7 104.0 L-4.2 107.3 L-4.9 110.7 L-4.9 113.3 L-2.3 112.9 L-1.0 114.1 L-3.2 119.2 L-1.4 119.8 L-0.8 121.8 L-1.2 124.9 L-2.9 129.4 L-5.5 135.0 L-6.0 138.2 L-6.3 141.2 L-8.4 146.2 L-5.8 145.8 L-1.4 143.4 L-1.2 145.9 L-1.0 148.6 L-2.5 153.4 L1.8 151.5 L5.7 150.0 L9.5 148.8 L11.6 149.3 L11.0 153.0 L13.7 153.0 L9.6 160.7 L9.7 163.6 L11.7 164.4 L14.5 164.1 L17.8 163.4 L23.5 159.9 L29.7 155.8 L30.1 158.4 L35.3 155.4 L38.7 154.6 L41.9 153.9 L47.4 150.6 L48.4 152.5 L51.3 152.1 L54.7 151.3 L55.4 153.6 L56.0 155.9 L56.8 158.0 L54.5 163.6 L52.2 169.2 L49.6 175.2 L55.2 171.8 L62.1 166.9 L70.4 160.5 L75.3 157.9 L80.4 155.1 L80.4 158.1 L81.0 160.4 L85.2 158.6 L85.3 161.6 L89.5 159.7 L91.9 160.1 L96.5 157.8 L98.4 158.7 L101.9 157.7 L103.6 158.7 L107.6 157.1 L109.2 158.4 L113.5 156.4 L114.9 157.9 L115.4 160.3 L117.6 160.9 L119.6 161.6 L122.3 161.4 L121.6 165.2 L125.2 164.2 L126.9 165.3 L127.1 168.0 L132.2 165.3 L133.2 167.1 L136.5 166.3 L141.0 164.2 L141.6 166.5 L144.8 165.9 L143.2 170.8 L142.4 174.7 L144.3 175.5 L141.5 181.7 L143.4 182.6 L139.9 189.6 L141.3 191.0 L149.0 185.2 L155.9 180.3 L162.9 175.4 L169.8 170.5 L178.2 163.9 L180.7 164.0 L184.1 163.2 L184.1 166.2 L188.3 164.4 L189.7 165.8 L191.7 166.6 L194.4 166.5 L197.7 165.7 L198.9 167.3 L201.1 167.8 L202.1 169.7 L206.4 167.8 L207.4 169.7 L209.5 170.3 L209.8 173.0 L213.3 172.0 L214.3 173.9 L217.2 173.6 L220.1 173.3 L223.9 172.0 L225.9 172.7 L227.9 173.4 L230.7 173.2 L234.2 172.2 L236.4 172.8 L242.1 169.2 L243.3 170.9 L245.8 166.1 L244.5 165.7 L247.9 159.9 L251.2 154.2 L252.1 151.3 L253.5 147.9 L255.6 143.5 L256.2 141.0 L258.2 136.8 L259.7 133.2 L261.7 129.0 L262.7 126.0 L265.3 121.1 L263.4 121.5 L264.6 118.2 L265.7 115.0 L266.5 112.3 L268.3 108.3 L269.7 104.8 L272.3 99.9 L272.4 97.9 L277.6 90.1 L277.2 88.6 L281.0 82.5 L281.4 80.1 L282.6 76.9 L282.9 74.6 L285.6 69.6 L283.6 70.1 L286.7 64.6 L286.6 62.8 L289.5 57.6 L291.4 53.5 L291.3 51.8 L293.6 47.3 L295.1 43.6 L298.1 38.3 L299.6 34.8 L302.5 29.6 L305.9 23.8 L304.5 23.5 L304.9 21.1 L306.1 17.9 L306.0 16.2 L308.3 11.6 L309.2 8.7 L308.2 8.0 L309.7 4.4 L312.3 -0.5 L310.4 -1.3 L306.7 -0.1 L303.1 1.0 L301.5 -0.2 L295.1 4.1 L291.5 5.3 L289.5 4.6 L284.0 7.9 L278.5 11.1 L275.9 11.2 L273.6 10.8 L269.3 12.8 L266.6 12.8 L264.4 12.3 L263.4 10.5 L265.2 5.4 L263.5 4.4 L264.4 0.4 L261.3 0.8 L261.7 -2.6 L261.0 -4.8 L262.0 -8.9 L260.6 -10.3 L260.1 -12.7 L258.5 -13.9 L255.0 -12.9 L250.1 -10.3 L245.3 -7.9 L243.2 -8.4 L236.1 -3.2 L232.6 -2.3 L228.3 -0.3 L225.0 0.5 L220.1 3.0 L217.5 3.0 L213.6 4.4 L211.8 3.5 L210.0 2.6 L206.2 3.9 L204.4 3.0 L200.1 4.9 L197.4 5.1 L196.9 2.6 L194.7 2.1 L193.0 1.1 L190.5 1.0 L189.3 -0.7 L187.7 -1.9 L186.4 -3.4 L182.7 -2.2 L181.3 -3.6 L180.5 -5.7 L176.7 -4.3 L174.1 -4.3 L172.1 -5.0 L168.6 -4.0 L167.5 -5.8 L164.3 -5.1 L159.4 -2.4 L155.3 -0.8 L151.6 0.5 L148.5 1.0 L144.4 2.7 L141.7 2.8 L138.4 3.6 L133.5 6.2 L129.0 8.4 L126.9 7.8 L121.0 11.5 L117.7 12.3 L114.5 12.9 L111.7 13.2 L108.2 14.2 L106.9 12.6 L104.7 12.1 L104.5 9.3 L102.6 8.6 L102.3 5.8 L100.3 5.2 L99.2 3.4 L97.1 2.8 L95.0 2.2 L94.2 0.1 L91.7 -0.0 L90.5 -1.7 L87.7 -1.4 L85.5 -1.8 L82.0 -0.8 L81.4 -3.2 L77.9 -2.2 L74.9 -1.7 L72.3 -1.8 L70.2 -2.4 L67.9 -2.8 L66.5 -4.1 L62.5 -2.6 L59.0 -1.5 L58.1 -3.5 L54.5 -2.3 L49.8 -0.1 L46.9 0.3 L44.0 0.6 L41.6 0.4 L39.8 -0.6 L36.8 -0.1 L32.4 1.9 L27.9 4.1 L25.3 4.1 L22.1 4.7 L19.4 4.8 L16.1 5.5 L15.8 2.9 L14.5 1.4 L12.3 1.0 L8.3 2.5 L7.4 0.6 L3.9 1.5 L3.1 -0.5Z" fill="#808080" filter="url(#srf2L)"/></g>
<line x1="616.9" y1="990.8" x2="931.5" y2="1055.8" stroke="#3c3c3c" stroke-width="1.0"/>
<path d="M940 1057.6 L929 1060.8 L930.6 1055.6 L930.2 1050.4Z" fill="#3a4658"/>
<line x1="616.9" y1="990.8" x2="610.6" y2="950" stroke="#3c3c3c" stroke-width="1.0"/>
<path d="M609.8 940 L614.4 951.4 L610.8 949.8 L606.6 952Z" fill="#3a4658"/>
<line x1="923.5" y1="1054.2" x2="1001" y2="950.4" stroke="#3c3c3c" stroke-width="0.9"/>
<line x1="711" y1="1010.6" x2="718" y2="1006" stroke="#3c3c3c" stroke-width="0.9"/>
<line x1="820" y1="1033" x2="826.4" y2="1028" stroke="#3c3c3c" stroke-width="0.9"/>
<line x1="957.5" y1="1008.6" x2="963.5" y2="1009.6" stroke="#3c3c3c" stroke-width="0.9"/>
<line x1="1001" y1="950.4" x2="1006" y2="951.2" stroke="#3c3c3c" stroke-width="0.9"/>
<text x="615.8" y="936.4" font-size="16.5">Z</text>
<text x="616" y="1008.4" font-size="16.5" text-anchor="middle">0</text>
<text x="708" y="1028.4" font-size="16.5" text-anchor="middle">50</text>
<text x="817.7" y="1050.6" font-size="16.5" text-anchor="middle">100</text>
<text x="912.6" y="1075.6" font-size="17.2" text-anchor="middle">144.7</text>
<text x="942" y="1072.3" font-size="17.8">X (μm)</text>
<text x="1012" y="924.6" font-size="16.5">9.4</text>
<text x="1006" y="962.2" font-size="16.5">108.5</text>
<text x="971.5" y="1011.2" font-size="16.5">50</text>
<text transform="translate(650.6,1038) rotate(12.2)" font-size="19.3">Cross section of crack</text>
<text transform="translate(817,887.2) rotate(6.8)" font-size="20.6">Sa: 1.786 μm</text>
<!-- panel g -->
<text x="1051.2" y="895.6" font-size="28.5" font-weight="bold">g</text>
<path d="M1080 882 L1090.1 882 L1090.1 1039.4 L1095.3 1039.4 L1085.1 1066.6 L1075 1039.4 L1080 1039.4Z" fill="url(#gar)"/>
<text transform="translate(1120.4,968.8) rotate(-90)" font-size="20.6" text-anchor="middle">Increase of Sa</text>
<g clip-path="url(#gcl)"><circle cx="1201" cy="920" r="41" fill="url(#gdr)"/></g>
<rect x="1126.4" y="932.4" width="149.2" height="19.5" fill="url(#gsb)"/>
<text x="1200" y="910.8" font-size="17.4" text-anchor="middle">Liquid</text>
<text x="1257" y="892" font-size="22.5">θ</text>
<line x1="1216" y1="933" x2="1240.4" y2="933" stroke="#111" stroke-width="1.6"/><line x1="1240" y1="933.4" x2="1249.6" y2="908.6" stroke="#111" stroke-width="1.6"/>
<path d="M1231.2 933 A9 9 0 0 1 1243.4 924.6" fill="none" stroke="#111" stroke-width="1.4"/>
<circle cx="1200.4" cy="1008.8" r="37.3" fill="url(#gdr)"/>
<rect x="1126.4" y="1054.5" width="149.2" height="9.8" fill="#5a5a5a"/>
<rect x="1126.4" y="1045.2" width="5.12" height="9.6" fill="#474747"/>
<rect x="1134.4" y="1045.2" width="5.12" height="9.6" fill="#474747"/>
<rect x="1142.4" y="1045.2" width="5.12" height="9.6" fill="#474747"/>
<rect x="1150.4" y="1045.2" width="5.12" height="9.6" fill="#474747"/>
<rect x="1158.4" y="1045.2" width="5.12" height="9.6" fill="#474747"/>
<rect x="1166.4" y="1045.2" width="5.12" height="9.6" fill="#474747"/>
<rect x="1174.4" y="1045.2" width="5.12" height="9.6" fill="#474747"/>
<rect x="1182.4" y="1045.2" width="5.12" height="9.6" fill="#474747"/>
<rect x="1190.4" y="1045.2" width="5.12" height="9.6" fill="#474747"/>
<rect x="1198.4" y="1045.2" width="5.12" height="9.6" fill="#474747"/>
<rect x="1206.4" y="1045.2" width="5.12" height="9.6" fill="#474747"/>
<rect x="1214.4" y="1045.2" width="5.12" height="9.6" fill="#474747"/>
<rect x="1222.5" y="1045.2" width="5.12" height="9.6" fill="#474747"/>
<rect x="1230.5" y="1045.2" width="5.12" height="9.6" fill="#474747"/>
<rect x="1238.5" y="1045.2" width="5.12" height="9.6" fill="#474747"/>
<rect x="1246.5" y="1045.2" width="5.12" height="9.6" fill="#474747"/>
<rect x="1254.5" y="1045.2" width="5.12" height="9.6" fill="#474747"/>
<rect x="1262.5" y="1045.2" width="5.12" height="9.6" fill="#474747"/>
<rect x="1270.5" y="1045.2" width="5.12" height="9.6" fill="#474747"/>
<text x="1256.8" y="999.4" font-size="22.5">θ*</text>
<line x1="1197.8" y1="1045.9" x2="1213" y2="1045.9" stroke="#111" stroke-width="1.6"/><line x1="1210.7" y1="1045.9" x2="1236.2" y2="1029.2" stroke="#111" stroke-width="1.6"/>
<path d="M1203.4 1045.9 A9.5 9.5 0 0 1 1218.4 1040.6" fill="none" stroke="#111" stroke-width="1.4"/>
</svg>
</body></html>
